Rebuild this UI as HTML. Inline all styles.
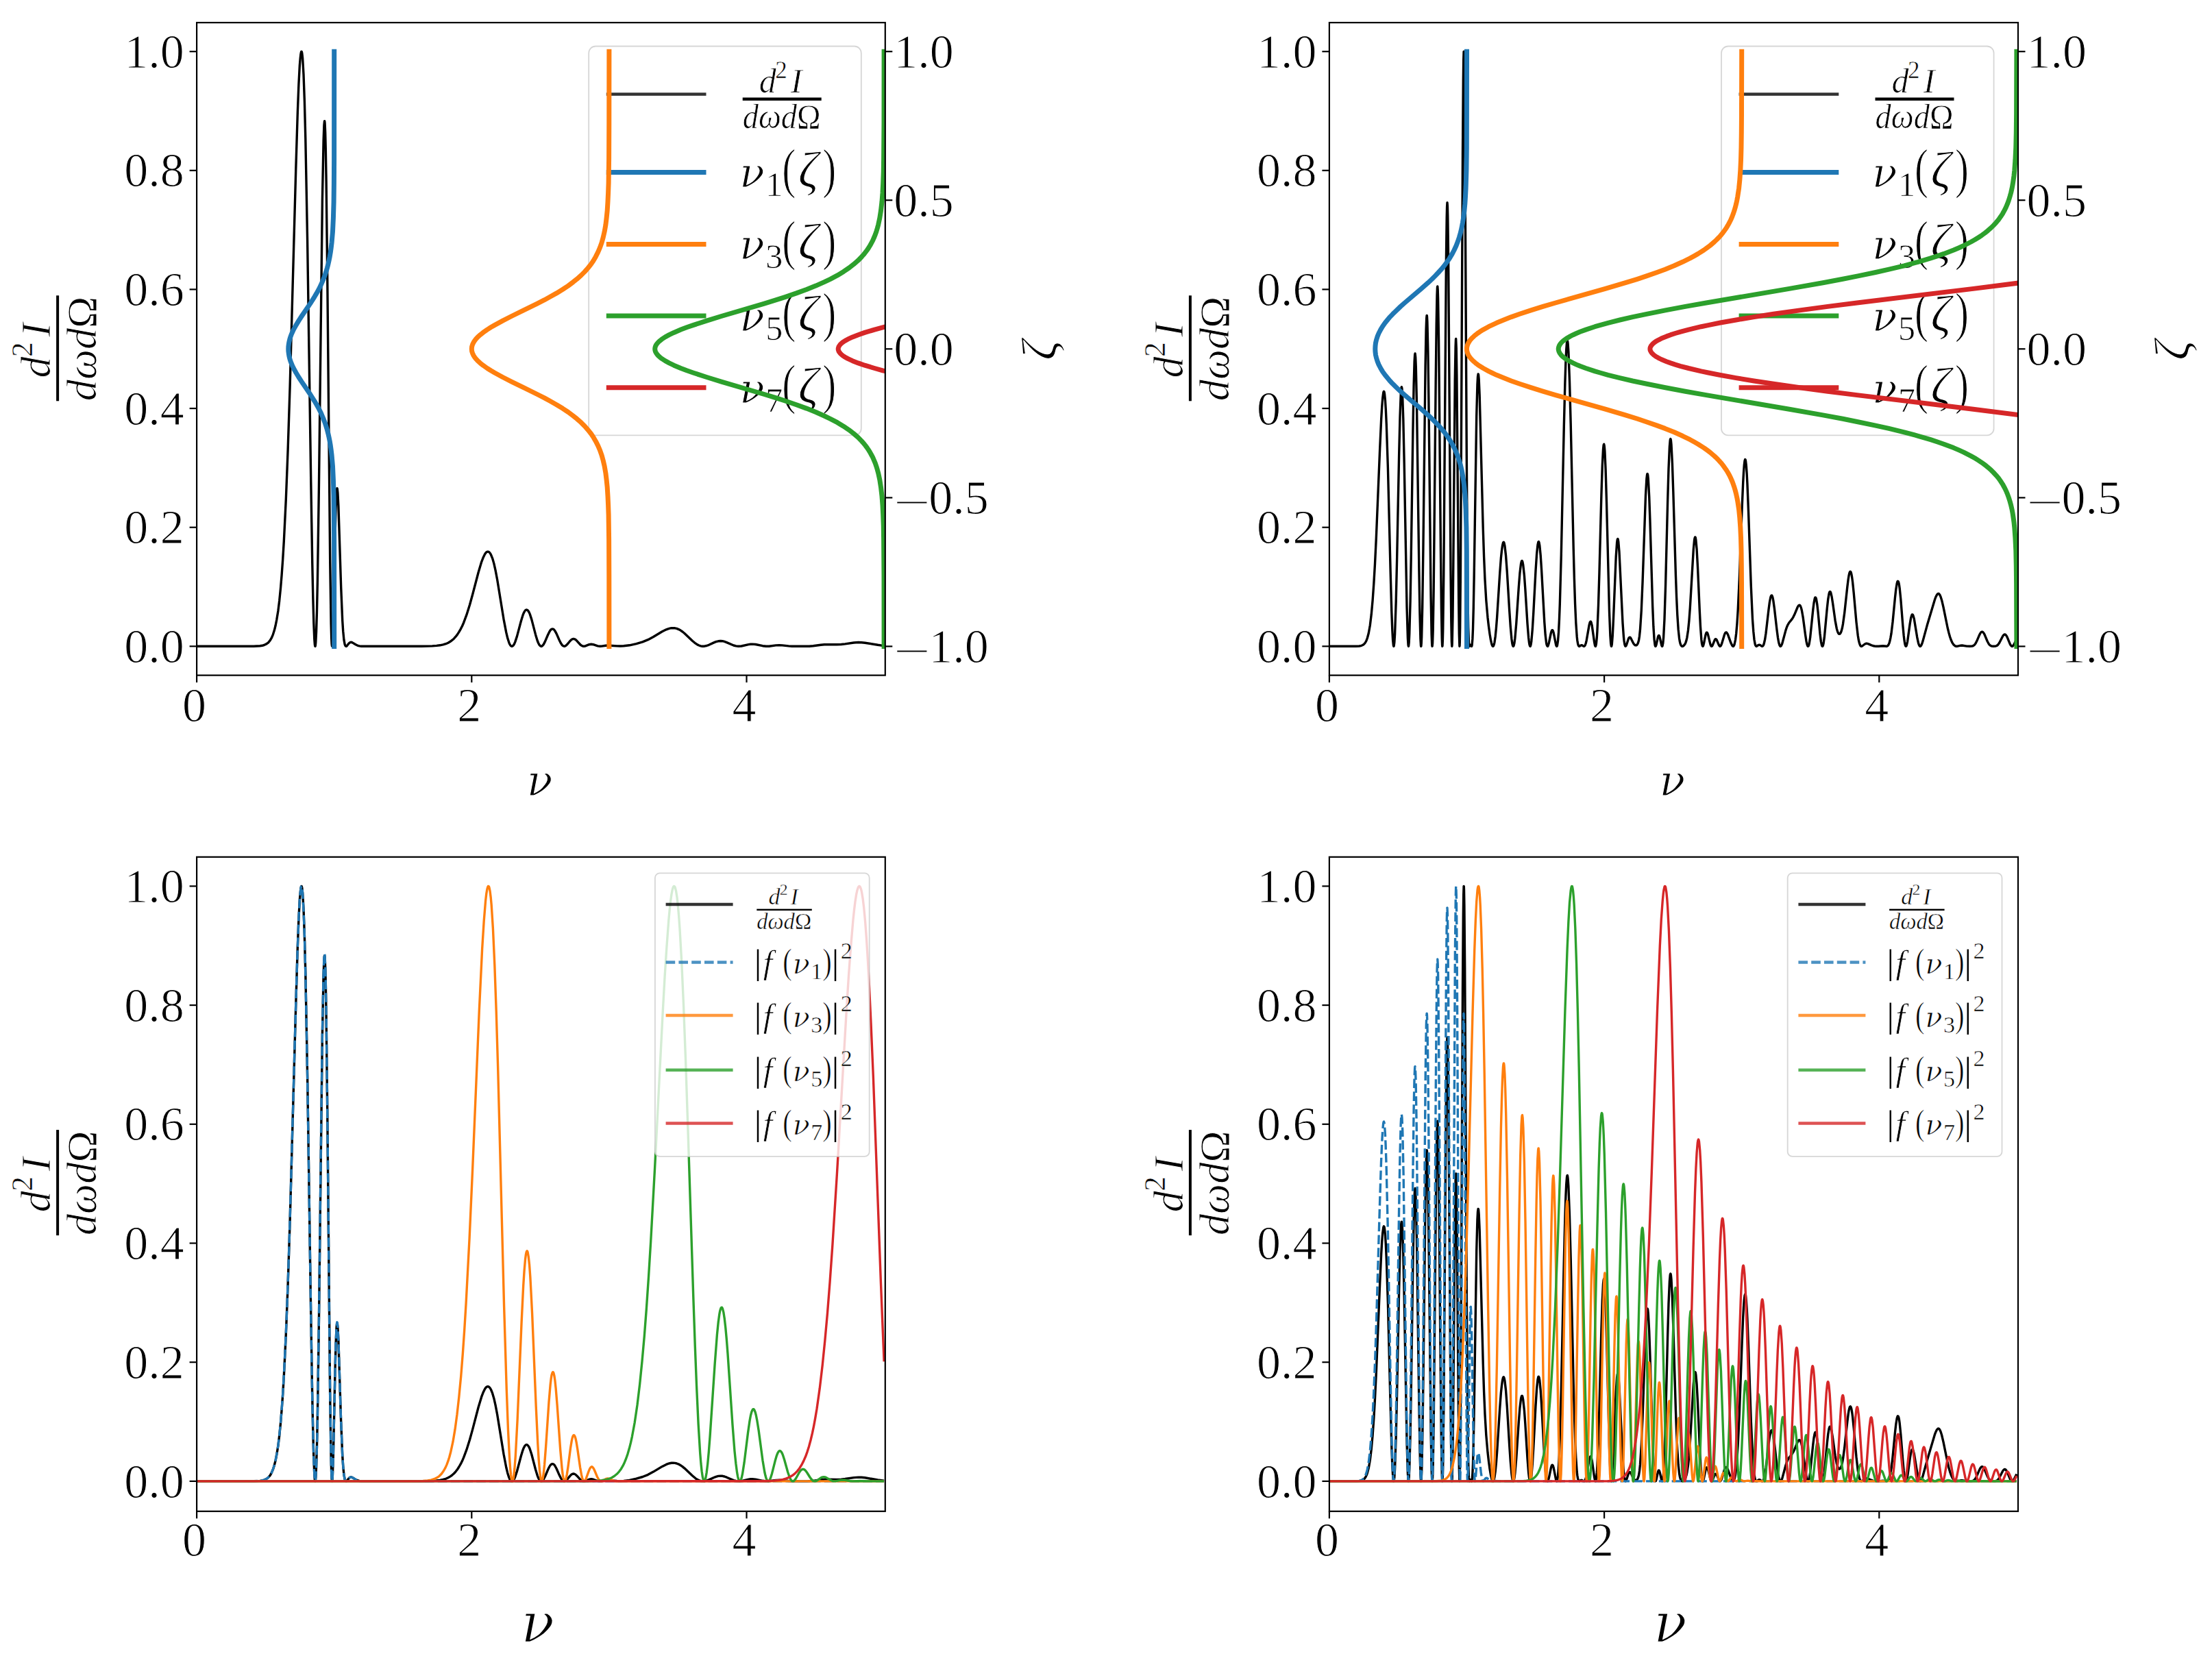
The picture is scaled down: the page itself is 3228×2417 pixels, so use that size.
<!DOCTYPE html>
<html lang="en"><head><meta charset="utf-8"><title>Spectra</title>
<style>html,body{margin:0;padding:0;background:#fff}svg{display:block}.t{font-family:"Liberation Serif",serif;font-size:70px;fill:#000;stroke:#fff;stroke-width:1.05px}.i{font-family:"Liberation Serif",serif;font-style:italic;fill:#000;stroke:#fff;stroke-width:0.7px}.r{font-family:"Liberation Serif",serif;fill:#000;stroke:#fff;stroke-width:0.7px}.g{font-family:"DejaVu Serif","Liberation Serif",serif;font-style:italic;fill:#000;stroke:#fff;stroke-width:1.1px}.c{fill:none;stroke-linejoin:round}</style></head><body>
<svg width="3228" height="2417" viewBox="0 0 3228 2417">
<rect width="3228" height="2417" fill="#fff"/>
<defs><clipPath id="cTL"><rect x="287.1" y="33.0" width="1004.7" height="952.6"/></clipPath><clipPath id="cTR"><rect x="1939.9" y="33.0" width="1005.1" height="952.6"/></clipPath><clipPath id="cBL"><rect x="287.1" y="1250.8" width="1004.7" height="955.0"/></clipPath><clipPath id="cBR"><rect x="1939.9" y="1250.8" width="1005.1" height="955.0"/></clipPath></defs>
<g id="TL"><g clip-path="url(#cTL)"><path class="c" stroke="#000" stroke-width="3.4" d="M287.1 943.3L370.1 943.2L379.4 942.8L382.6 942.3L385.4 941.5L388.8 939.9L391.6 937.8L394.2 934.7L396.4 930.9L398.4 926.1L400.4 919.8L402.2 912.5L403.8 904.3L405.9 891.4L407.7 876.7L409.5 858.7L411.1 839.4L412.7 816.6L414.3 790.1L417.3 728.8L420.1 656.9L423.1 564.4L431.7 249.8L434.3 164.7L435.9 123L437.3 96L438.2 85.2L438.8 79.6L439.4 76.2L439.8 75.3L440 75.2L440.4 75.9L440.8 77.7L441.6 84.7L443 108.5L444.4 147.5L445.8 201.6L448.6 351.4L453.8 704.7L455.8 824.3L456.8 872.1L457.8 909L458.8 933.2L459.4 941L459.8 943.1L460 943.3L460.2 942.8L460.4 941.7L460.8 937.5L461.6 921.3L462.4 894.7L463.4 847.3L465.4 711.4L470.4 291.6L472.1 205.4L472.9 182.9L473.5 176.7L473.7 176.7L473.9 177.9L474.1 180.1L474.7 193.6L475.3 217.2L476.1 263.7L477.7 401.3L481.7 820.6L483.1 910.4L483.7 931.6L484.1 939.7L484.5 943.1L484.7 943.2L484.9 942.1L485.3 936.9L486.3 908.6L489.1 778.9L490.1 741.6L491.1 718.9L491.5 714.5L491.9 712.7L492.1 712.8L492.3 713.6L492.9 719.3L493.9 738.9L497.7 857.8L499.7 905.5L500.7 921.2L501.9 933.6L503.1 940.3L503.9 942.4L504.8 943.2L505.4 943.2L506.2 942.7L508.8 939.4L510 938.2L511 937.6L512 937.3L513 937.4L514.2 937.9L519 940.8L521.6 942.1L524.4 942.9L527.4 943.2L615.1 943.2L630.9 942.9L637.1 942.4L642 941.8L646.6 940.9L650.6 939.7L654 938.2L657.2 936.3L660 934.2L662.6 931.9L665 929.2L667.4 926.1L669.8 922.4L672.3 918.1L674.5 913.7L676.7 908.7L680.9 897.4L685.5 882.7L689.5 868.3L698.1 835.5L702.7 820.1L705.4 813.2L707.6 808.7L708.8 807L709.8 806L710.8 805.3L711.8 805.1L713 805.4L714.2 806.2L715.4 807.7L716.4 809.5L718.6 814.8L720.8 822.4L723 832.1L725.6 845.7L735 903.6L738.7 922.9L740.7 931.3L742.7 937.6L743.7 940L744.7 941.7L745.7 942.8L746.7 943.3L747.9 943.1L749.1 942L750.3 940.2L751.7 937.1L754.5 928.6L760.3 906.7L762.9 898.2L764.3 894.6L765.7 892L767.1 890.4L768.3 890L769.5 890.3L770.7 891.5L772 893.5L773.2 896.1L775.8 904.1L781.6 926.4L784.2 935L785.6 938.5L787 941.1L788.4 942.7L789.6 943.3L790.4 943.2L791.4 942.7L793.2 940.6L795.4 936.4L799.6 926.5L801.6 922.4L802.8 920.4L803.8 919.2L804.8 918.4L805.9 918L806.9 918.1L807.9 918.6L808.9 919.5L809.9 920.9L812.1 924.9L816.3 934.5L818.3 938.5L820.5 941.7L821.5 942.6L822.5 943.1L824.1 943.2L825.9 942.3L827.7 940.6L831.5 936L833.3 934.1L835.1 932.8L836.9 932.4L838.5 932.8L840.2 933.8L841.8 935.3L847 941L848.8 942.3L850.6 943.1L852 943.3L853.6 943.1L859.8 940.7L862.8 940.2L865.8 940.7L872.3 942.9L875.7 943.3L878.1 943.1L883.9 942.2L886.7 942L900.3 942.9L905.3 943L910.2 942.8L918.6 941.8L928.6 939.6L937.8 936.9L945.7 933.7L953.5 929.5L966.3 921.8L972.3 918.8L975 917.8L977.4 917.2L979.8 916.7L982.2 916.6L985 916.8L987.6 917.4L990.4 918.6L993.2 920.1L996 922L999 924.5L1010.3 935.2L1015.1 939.2L1017.7 940.9L1020.1 942L1022.5 942.9L1024.9 943.3L1027.9 943.2L1031.1 942.5L1034.5 941.3L1041.8 937.9L1044.8 936.7L1048.2 935.8L1051.6 935.5L1054.4 935.7L1057.2 936.4L1060.4 937.6L1070.6 942L1074.1 942.9L1077.5 943.3L1081.9 943L1092.5 940.6L1095.3 940.2L1097.9 940.1L1102.5 940.5L1113 942.7L1118 943.3L1122.4 943.2L1132.2 941.9L1137.2 941.7L1141.5 941.9L1150.7 942.9L1155.7 943.2L1181 943.3L1186.6 942.8L1197.8 941.2L1203 940.7L1208.3 940.6L1220.9 940.8L1227.5 940.5L1233.3 939.9L1246 938L1252.8 937.5L1257.2 937.7L1262.2 938.2L1280.9 941.3L1290.1 942.6"/></g>
<rect x="859.2" y="67.5" width="397.6" height="567.9" rx="10" fill="#fff" fill-opacity="0.8" stroke="#ccc" stroke-opacity="0.8" stroke-width="1.8"/><line x1="884.8" x2="1030.5" y1="137.5" y2="137.5" stroke="#000" stroke-opacity="0.8" stroke-width="4.5"/><line x1="884.8" x2="1030.5" y1="251.5" y2="251.5" stroke="#1f77b4" stroke-width="7.0"/><line x1="884.8" x2="1030.5" y1="356.5" y2="356.5" stroke="#ff7f0e" stroke-width="7.0"/><line x1="884.8" x2="1030.5" y1="461.0" y2="461.0" stroke="#2ca02c" stroke-width="7.0"/><line x1="884.8" x2="1030.5" y1="565.8" y2="565.8" stroke="#d62728" stroke-width="7.0"/><rect x="1083.7" y="142.4" width="115.0" height="4.4" fill="#000"/><text class="i" style="stroke-width:0.75px" font-size="50.0" x="1107.7" y="135.0">d</text><text class="r" style="stroke-width:0.53px" font-size="35.0" x="1131.3" y="114.0">2</text><text class="i" style="stroke-width:0.75px" font-size="50.0" x="1154.1" y="135.0">I</text><text class="i" style="stroke-width:0.75px" font-size="50.0" x="1083.7" y="187.2" textLength="114.0" lengthAdjust="spacingAndGlyphs">dωd<tspan font-style="normal">Ω</tspan></text><text class="g" style="stroke-width:1.02px" font-size="60" x="1079.2" y="273.3">ν</text><text class="r" style="stroke-width:0.75px" font-size="50" x="1117.2" y="285.6">1</text><text class="r" style="stroke-width:1.20px" font-size="80.0" transform="translate(1141.2 273.3) scale(0.75 1)">(</text><text class="i" style="stroke-width:1.09px" font-size="73" x="1164.7" y="273.3">ζ</text><text class="r" style="stroke-width:1.20px" font-size="80.0" transform="translate(1200.2 273.3) scale(0.75 1)">)</text><text class="g" style="stroke-width:1.02px" font-size="60" x="1079.2" y="378.3">ν</text><text class="r" style="stroke-width:0.75px" font-size="50" x="1117.2" y="390.6">3</text><text class="r" style="stroke-width:1.20px" font-size="80.0" transform="translate(1141.2 378.3) scale(0.75 1)">(</text><text class="i" style="stroke-width:1.09px" font-size="73" x="1164.7" y="378.3">ζ</text><text class="r" style="stroke-width:1.20px" font-size="80.0" transform="translate(1200.2 378.3) scale(0.75 1)">)</text><text class="g" style="stroke-width:1.02px" font-size="60" x="1079.2" y="483.3">ν</text><text class="r" style="stroke-width:0.75px" font-size="50" x="1117.2" y="495.6">5</text><text class="r" style="stroke-width:1.20px" font-size="80.0" transform="translate(1141.2 483.3) scale(0.75 1)">(</text><text class="i" style="stroke-width:1.09px" font-size="73" x="1164.7" y="483.3">ζ</text><text class="r" style="stroke-width:1.20px" font-size="80.0" transform="translate(1200.2 483.3) scale(0.75 1)">)</text><text class="g" style="stroke-width:1.02px" font-size="60" x="1079.2" y="588.3">ν</text><text class="r" style="stroke-width:0.75px" font-size="50" x="1117.2" y="600.6">7</text><text class="r" style="stroke-width:1.20px" font-size="80.0" transform="translate(1141.2 588.3) scale(0.75 1)">(</text><text class="i" style="stroke-width:1.09px" font-size="73" x="1164.7" y="588.3">ζ</text><text class="r" style="stroke-width:1.20px" font-size="80.0" transform="translate(1200.2 588.3) scale(0.75 1)">)</text>
<g clip-path="url(#cTL)"><path class="c" stroke-linecap="square" stroke="#1f77b4" stroke-width="7.0" d="M487.7 943.4L487.6 787.1L487.4 751.3L487.1 724.2L486.4 700.3L485.5 680.8L484.1 664.5L483.2 656.9L482.3 650.4L481.2 643.9L480.1 638.4L478.9 633L477.5 627.6L475.9 622.2L474.1 616.7L472 611.3L470.2 607L467.8 601.5L465.1 596.1L462.1 590.7L458.9 585.3L452.7 575.5L440.2 557.1L435.9 550.5L432 544L428.4 537.5L426.4 533.2L425 529.9L423.8 526.7L422.8 523.4L421.8 519.1L421.3 515.8L420.9 512.6L420.8 509.3L420.9 506L421.3 502.8L421.8 499.5L422.8 495.2L423.8 491.9L425 488.7L426.4 485.4L428.4 481.1L432 474.6L435.9 468.1L440.2 461.5L452.7 443.1L458.9 433.3L462.1 427.9L465.1 422.5L467.8 417.1L470.2 411.6L472 407.3L474.1 401.9L475.9 396.4L477.5 391L478.9 385.6L480.1 380.2L481.2 374.7L482.3 368.2L483.2 361.7L484.1 354.1L485.5 337.8L486.4 318.3L487.1 294.4L487.4 267.3L487.6 231.5L487.7 75.2"/><path class="c" stroke-linecap="square" stroke="#ff7f0e" stroke-width="7.0" d="M888.9 943.4L888.8 839.2L888.6 787.1L888.1 751.3L887.6 737.2L887 724.2L886.2 711.2L885.1 700.3L883.9 690.5L882.2 680.8L880.2 672.1L878.1 664.5L875.4 656.9L872.6 650.4L869.3 643.9L866.1 638.4L862.5 633L858.2 627.6L853.5 622.2L848 616.7L841.9 611.3L836.5 607L829.2 601.5L821 596.1L812.2 590.7L802.6 585.3L794.6 580.9L784 575.5L746.5 557.1L733.6 550.5L721.7 544L716.2 540.8L711 537.5L704.9 533.2L700.8 529.9L697.2 526.7L694.2 523.4L692.6 521.2L691.2 519.1L689.6 515.8L688.6 512.6L688.3 509.3L688.6 506L689.6 502.8L691.2 499.5L692.6 497.4L694.2 495.2L697.2 491.9L700.8 488.7L704.9 485.4L711 481.1L716.2 477.8L721.7 474.6L733.6 468.1L746.5 461.5L784 443.1L794.6 437.7L802.6 433.3L812.2 427.9L821 422.5L829.2 417.1L836.5 411.6L841.9 407.3L848 401.9L853.5 396.4L858.2 391L862.5 385.6L866.1 380.2L869.3 374.7L872.6 368.2L875.4 361.7L878.1 354.1L880.2 346.5L882.2 337.8L883.9 328.1L885.1 318.3L886.2 307.4L887 294.4L887.6 281.4L888.1 267.3L888.6 231.5L888.8 179.4L888.9 75.2"/><path class="c" stroke-linecap="square" stroke="#2ca02c" stroke-width="7.0" d="M1290.1 943.4L1290 839.2L1289.6 787.1L1289.3 767.6L1288.7 751.3L1288 737.2L1287 724.2L1285.5 711.2L1283.8 700.3L1281.7 690.5L1280.2 685.1L1278.9 680.8L1277.4 676.4L1275.6 672.1L1273.7 667.7L1272 664.5L1269.6 660.1L1267.6 656.9L1265.4 653.6L1263 650.4L1260.4 647.1L1257.5 643.9L1252.2 638.4L1246 633L1239 627.6L1231 622.2L1222 616.7L1211.8 611.3L1202.8 607L1190.5 601.5L1177 596.1L1162.2 590.7L1146.3 585.3L1132.9 580.9L1115.3 575.5L1052.7 557.1L1031.3 550.5L1011.4 544L1002.2 540.8L993.6 537.5L983.4 533.2L976.6 529.9L970.7 526.7L965.7 523.4L962.9 521.2L960.6 519.1L958.7 516.9L957.9 515.8L956.7 513.6L956.3 512.6L955.8 510.4L955.8 509.3L955.8 508.2L956.3 506L956.7 505L957.9 502.8L958.7 501.7L960.6 499.5L962.9 497.4L965.7 495.2L970.7 491.9L976.6 488.7L983.4 485.4L993.6 481.1L1002.2 477.8L1011.4 474.6L1031.3 468.1L1052.7 461.5L1115.3 443.1L1132.9 437.7L1146.3 433.3L1162.2 427.9L1177 422.5L1190.5 417.1L1202.8 411.6L1211.8 407.3L1222 401.9L1231 396.4L1239 391L1246 385.6L1252.2 380.2L1257.5 374.7L1260.4 371.5L1263 368.2L1265.4 365L1267.6 361.7L1269.6 358.5L1272 354.1L1273.7 350.9L1275.6 346.5L1277.4 342.2L1278.9 337.8L1280.2 333.5L1281.7 328.1L1283.8 318.3L1285.5 307.4L1287 294.4L1288 281.4L1288.7 267.3L1289.3 251L1289.6 231.5L1290 179.4L1290.1 75.2"/><path class="c" stroke-linecap="square" stroke="#d62728" stroke-width="7.0" d="M1691.3 943.4L1691.2 839.2L1691 809.9L1690.6 787.1L1690.1 767.6L1689.4 751.3L1688.4 737.2L1687 724.2L1686 717.7L1684.9 711.2L1683.8 705.7L1682.5 700.3L1680.9 694.9L1679.5 690.5L1677.5 685.1L1675.6 680.8L1673.5 676.4L1671 672.1L1668.3 667.7L1666 664.5L1662.6 660.1L1659.8 656.9L1656.7 653.6L1653.4 650.4L1649.7 647.1L1645.7 643.9L1638.2 638.4L1629.6 633L1619.8 627.6L1608.6 622.2L1595.9 616.7L1581.7 611.3L1569.1 607L1551.9 601.5L1532.9 596.1L1512.3 590.7L1490 585.3L1471.2 580.9L1446.6 575.5L1358.9 557.1L1329 550.5L1301.1 544L1288.2 540.8L1276.3 537.5L1261.9 533.2L1252.4 529.9L1244.1 526.7L1237.1 523.4L1233.2 521.2L1229.9 519.1L1227.3 516.9L1226.2 515.8L1224.6 513.6L1224 512.6L1223.3 510.4L1223.2 509.3L1223.3 508.2L1224 506L1224.6 505L1226.2 502.8L1227.3 501.7L1229.9 499.5L1233.2 497.4L1237.1 495.2L1244.1 491.9L1252.4 488.7L1261.9 485.4L1276.3 481.1L1288.2 477.8L1301.1 474.6L1329 468.1L1358.9 461.5L1446.6 443.1L1471.2 437.7L1490 433.3L1512.3 427.9L1532.9 422.5L1551.9 417.1L1569.1 411.6L1581.7 407.3L1595.9 401.9L1608.6 396.4L1619.8 391L1629.6 385.6L1638.2 380.2L1645.7 374.7L1649.7 371.5L1653.4 368.2L1656.7 365L1659.8 361.7L1662.6 358.5L1666 354.1L1668.3 350.9L1671 346.5L1673.5 342.2L1675.6 337.8L1677.5 333.5L1679.5 328.1L1680.9 323.7L1682.5 318.3L1683.8 312.9L1684.9 307.4L1686 300.9L1687 294.4L1688.4 281.4L1689.4 267.3L1690.1 251L1690.6 231.5L1691 208.7L1691.2 179.4L1691.3 75.2"/></g>
<rect x="287.1" y="33.0" width="1004.7" height="952.6" fill="none" stroke="#000" stroke-width="2.2"/><line x1="287.1" x2="287.1" y1="985.6" y2="996.1" stroke="#000" stroke-width="2.2"/><text class="t" text-anchor="middle" x="283.6" y="1052.8">0</text><line x1="688.3" x2="688.3" y1="985.6" y2="996.1" stroke="#000" stroke-width="2.2"/><text class="t" text-anchor="middle" x="684.8" y="1052.8">2</text><line x1="1089.5" x2="1089.5" y1="985.6" y2="996.1" stroke="#000" stroke-width="2.2"/><text class="t" text-anchor="middle" x="1086.0" y="1052.8">4</text><line x1="276.6" x2="287.1" y1="943.3" y2="943.3" stroke="#000" stroke-width="2.2"/><text class="t" text-anchor="end" x="268.8" y="966.9">0.0</text><line x1="276.6" x2="287.1" y1="769.7" y2="769.7" stroke="#000" stroke-width="2.2"/><text class="t" text-anchor="end" x="268.8" y="793.3">0.2</text><line x1="276.6" x2="287.1" y1="596.1" y2="596.1" stroke="#000" stroke-width="2.2"/><text class="t" text-anchor="end" x="268.8" y="619.7">0.4</text><line x1="276.6" x2="287.1" y1="422.4" y2="422.4" stroke="#000" stroke-width="2.2"/><text class="t" text-anchor="end" x="268.8" y="446.0">0.6</text><line x1="276.6" x2="287.1" y1="248.8" y2="248.8" stroke="#000" stroke-width="2.2"/><text class="t" text-anchor="end" x="268.8" y="272.4">0.8</text><line x1="276.6" x2="287.1" y1="75.2" y2="75.2" stroke="#000" stroke-width="2.2"/><text class="t" text-anchor="end" x="268.8" y="98.8">1.0</text><line x1="1291.8" x2="1302.3" y1="943.4" y2="943.4" stroke="#000" stroke-width="2.2"/><text class="t" transform="translate(1303.7 969.6) scale(1.37 0.85)">−</text><text class="t" x="1355.3" y="967.0">1.0</text><line x1="1291.8" x2="1302.3" y1="726.4" y2="726.4" stroke="#000" stroke-width="2.2"/><text class="t" transform="translate(1303.7 752.6) scale(1.37 0.85)">−</text><text class="t" x="1355.3" y="750.0">0.5</text><line x1="1291.8" x2="1302.3" y1="509.3" y2="509.3" stroke="#000" stroke-width="2.2"/><text class="t" x="1304.3" y="532.9">0.0</text><line x1="1291.8" x2="1302.3" y1="292.2" y2="292.2" stroke="#000" stroke-width="2.2"/><text class="t" x="1304.3" y="315.9">0.5</text><line x1="1291.8" x2="1302.3" y1="75.2" y2="75.2" stroke="#000" stroke-width="2.2"/><text class="t" x="1304.3" y="98.8">1.0</text><text class="i" style="stroke-width:1.08px" font-size="72" transform="translate(1540.9 525.8) rotate(-90)">ζ</text><g transform="translate(84.1 508.3) rotate(-90)"><rect x="-77.0" y="-2.0" width="154.0" height="4.0" fill="#000"/><text class="i" style="stroke-width:0.93px" font-size="62.0" x="-43.2" y="-11.3">d</text><text class="r" style="stroke-width:0.65px" font-size="43.4" x="-12.7" y="-37.3">2</text><text class="i" style="stroke-width:0.93px" font-size="62.0" x="16.6" y="-11.3">I</text><text class="i" style="stroke-width:0.93px" font-size="62.0" x="-77.0" y="56.4" textLength="152.8" lengthAdjust="spacingAndGlyphs">dωd<tspan font-style="normal">Ω</tspan></text></g><text class="g" style="stroke-width:1.05px" font-size="62" text-anchor="middle" x="787.5" y="1160.6">ν</text></g>
<g id="TR"><g clip-path="url(#cTR)"><path class="c" stroke="#000" stroke-width="3.4" d="M1939.9 943.3L1978.6 943.2L1983.6 943L1986.8 942.3L1988.6 941.5L1990.3 940.4L1991.7 938.9L1992.9 937.1L1994.1 934.7L1995.3 931.5L1997.3 924L1999.3 912.7L2001.3 896.3L2003.1 876.4L2004.9 850.7L2006.5 822.8L2008.3 785.7L2013.7 654.4L2015.7 611.2L2016.7 594.1L2017.7 581.3L2018.7 573.5L2019.1 571.9L2019.5 571.4L2019.9 571.8L2020.1 572.5L2020.5 574.5L2021.5 584.5L2022.3 597.4L2023.3 619.8L2025.4 683L2029.2 836.5L2030.8 892.9L2031.8 919.4L2032.6 934.1L2033.4 942L2033.8 943.3L2034 943.2L2034.2 942.6L2034.8 938.1L2035.6 925.3L2037.2 877.9L2038.6 817.2L2041.6 665.9L2043 608.2L2044.2 576L2044.8 567.6L2045.2 565.1L2045.4 564.7L2045.8 566.1L2046 567.8L2046.6 576.6L2047.8 611.2L2049.2 675.5L2053 885.5L2054.4 931.9L2055 941.1L2055.4 943.3L2055.6 943.1L2056.2 937.5L2056.8 924.4L2058.1 877.3L2059.3 807.5L2061.9 629.3L2063.1 562.9L2064.1 527.7L2064.7 517.7L2065.1 516L2065.7 521.2L2066.3 535.6L2067.5 589.6L2070.9 834.2L2071.9 894.3L2072.9 932.5L2073.5 942.4L2073.7 943.3L2073.9 943L2074.3 938.6L2074.7 929.5L2075.7 886.1L2076.9 802.1L2080.1 533.4L2081.1 480.9L2081.7 464.4L2082.1 460.4L2082.3 460.5L2082.5 462.1L2082.9 469.6L2083.9 512.5L2084.9 584.7L2088.1 870.9L2089.1 925.4L2089.7 940.9L2089.9 942.9L2090.1 943.2L2090.6 938.9L2091.2 920.1L2092.2 858.4L2095.2 556L2096.2 472.5L2097 431L2097.4 420.7L2097.6 418.4L2097.8 418L2098.2 422.9L2098.6 435.5L2099.6 497.8L2102.4 798L2103.4 888.4L2104.2 932L2104.6 941.7L2104.8 943.3L2105 942.6L2105.4 934.5L2105.8 917.4L2106.8 838.3L2110.4 378.6L2111.2 317.8L2111.6 301.5L2112 295.6L2112.4 300.3L2112.8 315.6L2113.6 375.9L2117 833.2L2117.8 906.8L2118.4 936.7L2118.8 943.2L2119 942.5L2119.2 939L2120 899.8L2120.8 826.9L2123.2 556.1L2124.1 505.5L2124.5 495.4L2124.7 494.5L2125.3 508.9L2125.9 547.7L2128.7 878.4L2129.3 925L2129.9 943.2L2130.1 942L2130.3 937L2130.7 915.1L2131.5 825.5L2134.5 226.1L2135.3 118.1L2135.7 87.8L2136.1 75.2L2136.3 75.6L2136.5 80.4L2136.9 102.8L2137.7 193L2140.3 665.6L2141.5 830.1L2142.1 882.4L2142.7 916L2143.5 937.8L2143.9 941.9L2144.3 943.3L2144.7 943L2145.7 941.1L2145.9 941.1L2146.3 941.4L2147.1 942.9L2147.5 943.3L2147.9 942.6L2148.1 941.7L2148.9 932.4L2149.5 917.9L2150.3 887.1L2151.1 844L2154.7 607.4L2155.9 561.7L2156.5 550.1L2157.1 545.9L2157.4 546.1L2157.6 547.1L2158.2 554L2159.2 577.6L2164.2 770.2L2165.6 813L2167 845.8L2168.8 876.1L2171 901.2L2172.4 913.5L2174 925.3L2175.4 933.7L2176.8 939.9L2177.6 942.1L2178.2 943L2178.6 943.3L2179 943.2L2179.6 942.4L2180.4 940.1L2181 937.3L2182.2 928.9L2183.4 916.8L2184.6 901.4L2188.6 838.7L2190.4 814.2L2191.5 803.8L2192.5 796.4L2193.5 792.2L2193.9 791.5L2194.3 791.3L2194.7 791.7L2195.1 792.8L2195.9 796.5L2197.5 810.5L2199.3 834.9L2202.7 891.2L2204.3 914.8L2205.9 932.4L2206.7 938.3L2207.3 941.3L2207.9 942.9L2208.3 943.3L2208.7 943.1L2209.1 942.2L2209.9 938.8L2210.9 931.4L2212.7 910.7L2216.3 857L2217.9 836.7L2219.5 823.1L2220.3 819.6L2220.7 818.8L2221.1 818.6L2221.5 819.1L2221.9 820.2L2222.7 824.3L2224.4 839.6L2225.8 859.1L2229 910.3L2230.6 930.4L2231.4 937.4L2232 940.9L2232.8 943.2L2233.2 943.2L2233.4 943L2234 941.1L2234.8 935.9L2236.4 917.5L2237.8 894.2L2241 833.1L2242.6 808.5L2244 795L2244.8 791.3L2245.2 790.7L2245.4 790.6L2246 791.8L2246.8 796L2248.2 810.4L2249.6 831.9L2253.8 908.1L2255.2 926.8L2256.6 938.6L2257.2 941.4L2257.9 942.9L2258.5 943.3L2259.1 942.6L2260.3 938.7L2263.5 923.2L2264.5 920.3L2265.1 919.6L2265.5 919.6L2266.3 920.7L2267.3 924.1L2270.7 941.4L2271.3 942.9L2271.7 943.3L2272.1 943L2272.5 942L2273.5 935.6L2274.5 922.9L2275.5 903.1L2276.3 881.9L2278.3 809.6L2282.3 622.6L2283.9 558.1L2284.9 527.8L2285.7 510.5L2286.5 500.2L2286.9 497.8L2287.1 497.3L2287.3 497.3L2287.7 498.5L2288.1 501.7L2288.9 513.3L2290.5 556L2292.2 618.8L2296.2 800.3L2297.4 845.5L2298.6 881.9L2299.8 909L2301.2 929.2L2301.8 934.7L2302.6 939.5L2303.4 942.2L2304.2 943.2L2305 943.2L2307 941.9L2308 941.7L2309 942L2310.8 943.1L2311.6 943.3L2312.4 942.9L2313.2 941.7L2314.2 939L2315.2 934.8L2319.2 911.9L2320.2 908.3L2321 907.2L2321.6 907.4L2322 908.2L2323.2 913L2326.5 936.6L2327.5 941.9L2328.1 943.2L2328.5 943.2L2329.1 941.3L2329.5 938.9L2330.3 930.6L2330.9 921.3L2332.5 883.6L2333.9 837.2L2336.9 722.7L2338.3 679.3L2339.5 655.8L2340.1 649.9L2340.5 648.4L2340.7 648.3L2341.3 651.2L2341.9 658.4L2343.1 685.1L2344.5 732.9L2348.5 892.8L2349.9 928.2L2350.7 939.3L2351.3 943L2351.5 943.3L2351.7 943.2L2352.3 940.3L2353.3 927.8L2354.5 902.9L2358.2 812.7L2359.6 792L2360.2 787.8L2360.4 787.1L2360.8 786.5L2361.2 787.3L2361.8 790.9L2363 805.5L2368 909.1L2369.4 929L2370 934.9L2370.8 940.1L2371.2 941.7L2371.8 943.1L2372.2 943.3L2372.8 942.8L2373.8 940.5L2376.4 932.4L2377.2 930.9L2378 930.1L2378.8 930.2L2379.6 931L2383.8 939.3L2385 940.8L2386.4 941.7L2387.2 941.8L2388 941.7L2388.8 941.2L2389.4 940.5L2390.4 938.4L2391.5 934.7L2392.5 928.4L2393.5 918.8L2395.3 890.9L2397.1 848.5L2401.5 723.1L2402.9 698.7L2403.5 693.4L2403.9 691.7L2404.1 691.5L2404.5 692.3L2404.7 693.3L2405.3 698.7L2406.7 724.6L2407.9 758.7L2411.7 885.6L2412.9 914.7L2414.1 933.6L2415.1 941.5L2415.5 942.8L2415.7 943.2L2416.1 943.2L2416.5 942.6L2417.1 940.7L2419.5 929.6L2420.3 927.7L2420.9 927.4L2421.5 928.3L2422.1 930.1L2424.8 942L2425.4 943.2L2425.8 943.2L2426 942.8L2426.8 939L2427.6 930.6L2429 903.4L2430.6 853.4L2433.6 733L2435 684.3L2436.4 651.8L2437.2 642.7L2437.4 641.5L2437.8 640.6L2438 640.9L2438.4 642.7L2439 648.7L2440.4 676.1L2441.8 717.5L2445.4 838.9L2446.6 871.7L2447.8 897.6L2449.2 918.9L2450.6 932L2451.4 936.7L2452.2 939.8L2453.2 942.1L2454.2 943.1L2454.8 943.3L2455.6 943.2L2457.2 942.2L2458.7 940.4L2459.9 937.9L2460.9 934.9L2461.9 930.6L2463.5 920L2464.9 906.1L2466.3 887.3L2471.3 801.9L2472.5 788.9L2473.1 785.3L2473.7 783.9L2474.1 784.3L2474.3 784.9L2474.9 788.3L2476.1 802L2477.5 827.6L2480.3 891.4L2481.5 914.8L2482.9 933.9L2483.5 938.8L2484.3 942.5L2484.9 943.3L2485.3 943L2485.7 942.1L2486.5 939.1L2489.1 926.2L2489.9 923.9L2490.3 923.3L2490.7 923.1L2491.1 923.3L2491.6 923.8L2492.4 925.8L2496 940.6L2496.8 942.5L2497.6 943.3L2498 943.2L2498.4 943L2499.2 941.7L2502.4 933.8L2503.2 932.8L2503.8 932.6L2504.6 933.1L2505.4 934.3L2508 940.6L2509 942.5L2510 943.3L2510.8 943L2511.6 941.9L2512.6 939.4L2516.6 926L2517.8 923.6L2518.8 922.9L2519.4 923L2520 923.5L2521.4 925.9L2525.9 938.3L2527.7 942.1L2528.7 943.2L2529.5 943.2L2530.3 942.4L2531.1 940.5L2532.5 934L2533.7 924.5L2534.9 910.7L2536.1 892L2538.3 845.2L2542.1 742.2L2543.7 704.2L2544.5 689.5L2545.3 678.7L2546.1 672.2L2546.7 670.5L2547.1 670.9L2547.5 672.5L2548.3 679.2L2549.1 690.5L2549.9 705.9L2551.5 745.9L2555.3 855.6L2557.5 903.9L2558.8 921.7L2560 933.5L2561.2 940.1L2561.8 941.9L2562.6 943.1L2563 943.3L2563.6 943.2L2566 941.5L2567.2 941.1L2568.4 941.4L2571 943.2L2572 943.2L2572.6 942.8L2573.2 942L2574.2 939.5L2575.6 933.4L2577 924.3L2581 889.6L2582.4 879L2583.8 871.8L2584.6 869.6L2585.2 869L2585.8 869.2L2586.4 870.4L2587 872.5L2587.8 876.5L2589.4 888L2592.9 918.6L2594.5 930.8L2595.5 936.5L2596.3 939.8L2597.1 942.1L2597.9 943.2L2598.5 943.3L2599.3 942.6L2600.7 939.5L2605.9 920.1L2607.1 916.4L2608.5 912.9L2610.7 909L2614.9 903.9L2616.7 901.1L2618.7 897.1L2623.3 886L2624.5 884L2625.1 883.5L2625.8 883.2L2626.4 883.4L2626.8 883.7L2627.6 885L2628.6 887.8L2629.4 891L2631.2 901.3L2634.6 926.7L2636 935.8L2636.8 939.7L2637.6 942.3L2638 943L2638.4 943.3L2639 943L2639.6 941.7L2640.2 939.5L2641.6 930.8L2645.8 889.9L2647 880.1L2648.2 873.8L2648.8 872.2L2649.2 871.9L2649.8 872.3L2650.4 873.9L2651.8 882.1L2653 892.9L2656 925L2657.4 936.5L2658.6 942.2L2659.3 943.2L2659.5 943.3L2659.9 943L2660.5 941.6L2661.1 939L2662.3 930.6L2666.3 887.7L2667.7 874.9L2669.1 866.6L2669.7 864.6L2670.1 863.8L2670.5 863.5L2671.1 863.8L2671.7 865L2673.1 870.9L2674.5 879.7L2678.1 905.6L2680.3 917.4L2681.5 921.6L2682.7 924.2L2683.3 925L2683.9 925.4L2684.5 925.4L2685.1 925.1L2686.3 923.3L2687.3 920.7L2688.5 916L2689.5 910.6L2691.7 894.6L2695.8 856.8L2697.2 845.4L2698 840.4L2698.8 836.7L2699.6 834.6L2700.2 834.2L2700.6 834.4L2701 835.1L2701.8 837.8L2702.6 842.1L2703.6 849.6L2705.2 865.3L2709 908.1L2711.2 927.3L2712.2 933.5L2713.4 938.7L2714.6 941.8L2715.2 942.7L2716 943.2L2716.6 943.3L2717.4 943L2721.4 940L2722.6 939.4L2723.6 939.2L2724.8 939.3L2726.1 939.6L2730.7 941.6L2733.1 942.5L2735.5 943L2738.1 943.3L2741.3 943.3L2747.7 942.7L2753.1 943.3L2753.9 943.1L2754.7 942.6L2755.9 941.1L2756.9 938.9L2757.9 935.5L2758.9 930.8L2760 924.6L2762 908L2765.4 872.9L2766.8 860.2L2768.2 851.5L2769 848.8L2769.6 848.2L2770.2 848.7L2770.8 850.3L2771.4 853.2L2772.2 858.7L2773.8 874.7L2776.8 912.6L2778.2 927.9L2779 934.6L2779.8 939.5L2780.4 941.9L2780.8 942.8L2781.2 943.3L2781.8 943L2782.4 941.6L2783.6 936.3L2787.2 910.2L2788.6 902L2789.8 897.9L2790.4 897L2790.8 896.9L2791.4 897.4L2792 898.6L2793.3 903.2L2797.7 930.1L2799.5 938.6L2800.5 941.5L2801.5 943L2801.9 943.3L2802.5 943.2L2803.5 942.2L2804.7 939.7L2806.1 935.4L2812.3 912.6L2823.3 875.7L2824.7 871.8L2826.2 868.8L2827.4 867.1L2828 866.6L2828.6 866.4L2829.2 866.5L2829.8 866.9L2831 868.6L2832.2 871.4L2833.6 875.9L2836 886.1L2842.2 916.5L2844 923.9L2845.6 929.5L2847.4 934.6L2849.2 938.4L2851 941L2852.8 942.6L2854.2 943.2L2855.8 943.3L2861.1 942.2L2863.3 942L2870.1 943.1L2874.5 943.3L2877.7 943.1L2879.7 942.5L2881.5 941.1L2883.1 938.9L2884.7 935.8L2888.1 927.8L2889.5 924.9L2890.9 922.9L2891.7 922.3L2892.3 922.1L2893 922.2L2893.8 922.7L2895.4 924.8L2896.8 927.8L2900.2 936L2902.2 939.7L2903.2 941L2904.2 941.9L2905.4 942.7L2906.6 943L2909.2 943.2L2912 943.1L2913.8 942.5L2915.2 941.5L2916.4 940.2L2917.8 938L2922.8 928.3L2924 926.7L2925.2 926L2926 926L2926.7 926.3L2928.1 928L2929.5 930.8L2933.3 940.1L2934.5 942.1L2935.7 943.2L2936.3 943.3L2936.9 943.2L2938.3 941.8L2939.5 939.7L2942.9 932.8"/></g>
<rect x="2512.0" y="67.5" width="397.6" height="567.9" rx="10" fill="#fff" fill-opacity="0.8" stroke="#ccc" stroke-opacity="0.8" stroke-width="1.8"/><line x1="2537.6" x2="2683.3" y1="137.5" y2="137.5" stroke="#000" stroke-opacity="0.8" stroke-width="4.5"/><line x1="2537.6" x2="2683.3" y1="251.5" y2="251.5" stroke="#1f77b4" stroke-width="7.0"/><line x1="2537.6" x2="2683.3" y1="356.5" y2="356.5" stroke="#ff7f0e" stroke-width="7.0"/><line x1="2537.6" x2="2683.3" y1="461.0" y2="461.0" stroke="#2ca02c" stroke-width="7.0"/><line x1="2537.6" x2="2683.3" y1="565.8" y2="565.8" stroke="#d62728" stroke-width="7.0"/><rect x="2736.5" y="142.4" width="115.0" height="4.4" fill="#000"/><text class="i" style="stroke-width:0.75px" font-size="50.0" x="2760.5" y="135.0">d</text><text class="r" style="stroke-width:0.53px" font-size="35.0" x="2784.1" y="114.0">2</text><text class="i" style="stroke-width:0.75px" font-size="50.0" x="2806.9" y="135.0">I</text><text class="i" style="stroke-width:0.75px" font-size="50.0" x="2736.5" y="187.2" textLength="114.0" lengthAdjust="spacingAndGlyphs">dωd<tspan font-style="normal">Ω</tspan></text><text class="g" style="stroke-width:1.02px" font-size="60" x="2732.0" y="273.3">ν</text><text class="r" style="stroke-width:0.75px" font-size="50" x="2770.0" y="285.6">1</text><text class="r" style="stroke-width:1.20px" font-size="80.0" transform="translate(2794.0 273.3) scale(0.75 1)">(</text><text class="i" style="stroke-width:1.09px" font-size="73" x="2817.5" y="273.3">ζ</text><text class="r" style="stroke-width:1.20px" font-size="80.0" transform="translate(2853.0 273.3) scale(0.75 1)">)</text><text class="g" style="stroke-width:1.02px" font-size="60" x="2732.0" y="378.3">ν</text><text class="r" style="stroke-width:0.75px" font-size="50" x="2770.0" y="390.6">3</text><text class="r" style="stroke-width:1.20px" font-size="80.0" transform="translate(2794.0 378.3) scale(0.75 1)">(</text><text class="i" style="stroke-width:1.09px" font-size="73" x="2817.5" y="378.3">ζ</text><text class="r" style="stroke-width:1.20px" font-size="80.0" transform="translate(2853.0 378.3) scale(0.75 1)">)</text><text class="g" style="stroke-width:1.02px" font-size="60" x="2732.0" y="483.3">ν</text><text class="r" style="stroke-width:0.75px" font-size="50" x="2770.0" y="495.6">5</text><text class="r" style="stroke-width:1.20px" font-size="80.0" transform="translate(2794.0 483.3) scale(0.75 1)">(</text><text class="i" style="stroke-width:1.09px" font-size="73" x="2817.5" y="483.3">ζ</text><text class="r" style="stroke-width:1.20px" font-size="80.0" transform="translate(2853.0 483.3) scale(0.75 1)">)</text><text class="g" style="stroke-width:1.02px" font-size="60" x="2732.0" y="588.3">ν</text><text class="r" style="stroke-width:0.75px" font-size="50" x="2770.0" y="600.6">7</text><text class="r" style="stroke-width:1.20px" font-size="80.0" transform="translate(2794.0 588.3) scale(0.75 1)">(</text><text class="i" style="stroke-width:1.09px" font-size="73" x="2817.5" y="588.3">ζ</text><text class="r" style="stroke-width:1.20px" font-size="80.0" transform="translate(2853.0 588.3) scale(0.75 1)">)</text>
<g clip-path="url(#cTR)"><path class="c" stroke-linecap="square" stroke="#1f77b4" stroke-width="7.0" d="M2140.5 943.4L2140.4 852.2L2140.3 803.4L2139.9 769.8L2139.1 743.7L2138.5 731.8L2137.8 720.9L2136.9 711.2L2135.9 702.5L2134.5 693.8L2133.1 686.2L2131.3 678.6L2129.4 672.1L2127.2 665.6L2125.1 660.1L2122.1 653.6L2119.3 648.2L2115.4 641.7L2111.7 636.3L2107.7 630.8L2103.2 625.4L2099.3 621.1L2094.2 615.7L2089.8 611.3L2084 605.9L2074.1 597.2L2049.9 576.6L2043.8 571.2L2038 565.7L2032.5 560.3L2028.4 556L2024.7 551.6L2021.2 547.3L2017.4 541.9L2014.8 537.5L2012 532.1L2010.2 527.7L2008.5 522.3L2007.5 518L2007 513.6L2006.8 509.3L2007 505L2007.5 500.6L2008.5 496.3L2010.2 490.9L2012 486.5L2014.8 481.1L2017.4 476.7L2021.2 471.3L2024.7 467L2028.4 462.6L2032.5 458.3L2038 452.9L2043.8 447.4L2049.9 442L2074.1 421.4L2084 412.7L2089.8 407.3L2094.2 402.9L2099.3 397.5L2103.2 393.2L2107.7 387.8L2111.7 382.3L2115.4 376.9L2119.3 370.4L2122.1 365L2125.1 358.5L2127.2 353L2129.4 346.5L2131.3 340L2133.1 332.4L2134.5 324.8L2135.9 316.1L2136.9 307.4L2137.8 297.7L2138.5 286.8L2139.1 274.9L2139.9 248.8L2140.3 215.2L2140.4 166.4L2140.5 75.2"/><path class="c" stroke-linecap="square" stroke="#ff7f0e" stroke-width="7.0" d="M2541.7 943.4L2541.5 852.2L2541.3 825.1L2541 803.4L2540.5 785L2539.8 769.8L2538.8 755.7L2537.6 743.7L2535.8 731.8L2534.8 726.4L2533.6 720.9L2532.2 715.5L2530.9 711.2L2529.4 706.8L2527.8 702.5L2525.9 698.1L2523.8 693.8L2521.4 689.5L2519.4 686.2L2516.4 681.9L2514 678.6L2511.3 675.3L2508.4 672.1L2505.2 668.8L2501.8 665.6L2495.4 660.1L2491.1 656.9L2486.5 653.6L2478 648.2L2472.4 645L2466.4 641.7L2455.4 636.3L2443.2 630.8L2429.8 625.4L2418.2 621.1L2402.7 615.7L2389.5 611.3L2372.1 605.9L2342.6 597.2L2270 576.6L2251.6 571.2L2234.1 565.7L2217.7 560.3L2205.5 556L2194.3 551.6L2183.9 547.3L2176.9 544L2172.5 541.9L2164.6 537.5L2159.4 534.3L2156.2 532.1L2153.4 529.9L2150.8 527.7L2147.5 524.5L2145.6 522.3L2144.1 520.2L2142.8 518L2141.8 515.8L2141.1 513.6L2140.6 511.5L2140.5 509.3L2140.6 507.1L2141.1 505L2141.8 502.8L2142.8 500.6L2144.1 498.4L2145.6 496.3L2147.5 494.1L2150.8 490.9L2153.4 488.7L2156.2 486.5L2159.4 484.3L2164.6 481.1L2172.5 476.7L2176.9 474.6L2183.9 471.3L2194.3 467L2205.5 462.6L2217.7 458.3L2234.1 452.9L2251.6 447.4L2270 442L2342.6 421.4L2372.1 412.7L2389.5 407.3L2402.7 402.9L2418.2 397.5L2429.8 393.2L2443.2 387.8L2455.4 382.3L2466.4 376.9L2472.4 373.6L2478 370.4L2486.5 365L2491.1 361.7L2495.4 358.5L2501.8 353L2505.2 349.8L2508.4 346.5L2511.3 343.3L2514 340L2516.4 336.7L2519.4 332.4L2521.4 329.1L2523.8 324.8L2525.9 320.5L2527.8 316.1L2529.4 311.8L2530.9 307.4L2532.2 303.1L2533.6 297.7L2534.8 292.2L2535.8 286.8L2537.6 274.9L2538.8 262.9L2539.8 248.8L2540.5 233.6L2541 215.2L2541.3 193.5L2541.5 166.4L2541.7 75.2"/><path class="c" stroke-linecap="square" stroke="#2ca02c" stroke-width="7.0" d="M2942.9 943.4L2942.6 852.2L2942.3 825.1L2941.8 803.4L2940.9 785L2939.8 769.8L2939 762.2L2938.1 755.7L2937.1 749.1L2936.1 743.7L2934.6 737.2L2933.1 731.8L2931.4 726.4L2929.4 720.9L2927.1 715.5L2924.9 711.2L2922.5 706.8L2919.7 702.5L2916.6 698.1L2913 693.8L2909 689.5L2905.7 686.2L2900.8 681.9L2896.7 678.6L2892.2 675.3L2887.4 672.1L2882.1 668.8L2876.4 665.6L2865.7 660.1L2858.6 656.9L2850.9 653.6L2836.7 648.2L2827.4 645L2817.3 641.7L2799.1 636.3L2778.8 630.8L2756.5 625.4L2737.1 621.1L2711.2 615.7L2689.2 611.3L2660.2 605.9L2611.1 597.2L2490 576.6L2459.4 571.2L2430.3 565.7L2403 560.3L2382.6 556L2363.8 551.6L2346.6 547.3L2334.9 544L2327.6 541.9L2314.4 537.5L2305.7 534.3L2300.5 532.1L2295.7 529.9L2291.4 527.7L2285.9 524.5L2282.8 522.3L2280.2 520.2L2278 518L2276.4 515.8L2275.2 513.6L2274.5 511.5L2274.2 509.3L2274.5 507.1L2275.2 505L2276.4 502.8L2278 500.6L2280.2 498.4L2282.8 496.3L2285.9 494.1L2291.4 490.9L2295.7 488.7L2300.5 486.5L2305.7 484.3L2314.4 481.1L2327.6 476.7L2334.9 474.6L2346.6 471.3L2363.8 467L2382.6 462.6L2403 458.3L2430.3 452.9L2459.4 447.4L2490 442L2611.1 421.4L2660.2 412.7L2689.2 407.3L2711.2 402.9L2737.1 397.5L2756.5 393.2L2778.8 387.8L2799.1 382.3L2817.3 376.9L2827.4 373.6L2836.7 370.4L2850.9 365L2858.6 361.7L2865.7 358.5L2876.4 353L2882.1 349.8L2887.4 346.5L2892.2 343.3L2896.7 340L2900.8 336.7L2905.7 332.4L2909 329.1L2913 324.8L2916.6 320.5L2919.7 316.1L2922.5 311.8L2924.9 307.4L2927.1 303.1L2929.4 297.7L2931.4 292.2L2933.1 286.8L2934.6 281.4L2936.1 274.9L2937.1 269.5L2938.1 262.9L2939 256.4L2939.8 248.8L2940.9 233.6L2941.8 215.2L2942.3 193.5L2942.6 166.4L2942.9 75.2"/><path class="c" stroke-linecap="square" stroke="#d62728" stroke-width="7.0" d="M3344.1 943.4L3344 888.1L3343.7 852.2L3343.3 825.1L3342.5 803.4L3342 793.6L3341.3 785L3340.6 777.4L3339.7 769.8L3338.6 762.2L3337.4 755.7L3336 749.1L3334.5 743.7L3332.5 737.2L3330.4 731.8L3328 726.4L3325.2 720.9L3322 715.5L3318.9 711.2L3315.5 706.8L3311.6 702.5L3307.2 698.1L3302.3 693.8L3296.7 689.5L3292 686.2L3285.2 681.9L3279.4 678.6L3273.2 675.3L3266.4 672.1L3259 668.8L3251 665.6L3242.2 662.3L3236 660.1L3226.1 656.9L3215.3 653.6L3195.5 648.2L3182.4 645L3168.3 641.7L3142.7 636.3L3114.3 630.8L3083.1 625.4L3056 621.1L3019.8 615.7L2988.9 611.3L2948.3 605.9L2879.6 597.2L2710 576.6L2667.2 571.2L2626.4 565.7L2588.2 560.3L2559.7 556L2533.4 551.6L2509.3 547.3L2492.9 544L2482.7 541.9L2464.2 537.5L2452 534.3L2444.7 532.1L2438 529.9L2432 527.7L2424.3 524.5L2420 522.3L2416.3 520.2L2413.3 518L2411 515.8L2409.3 513.6L2408.3 511.5L2408 510.4L2408 509.3L2408 508.2L2408.3 507.1L2409.3 505L2411 502.8L2413.3 500.6L2416.3 498.4L2420 496.3L2424.3 494.1L2432 490.9L2438 488.7L2444.7 486.5L2452 484.3L2464.2 481.1L2482.7 476.7L2492.9 474.6L2509.3 471.3L2533.4 467L2559.7 462.6L2588.2 458.3L2626.4 452.9L2667.2 447.4L2710 442L2879.6 421.4L2948.3 412.7L2988.9 407.3L3019.8 402.9L3056 397.5L3083.1 393.2L3114.3 387.8L3142.7 382.3L3168.3 376.9L3182.4 373.6L3195.5 370.4L3215.3 365L3226.1 361.7L3236 358.5L3242.2 356.3L3251 353L3259 349.8L3266.4 346.5L3273.2 343.3L3279.4 340L3285.2 336.7L3292 332.4L3296.7 329.1L3302.3 324.8L3307.2 320.5L3311.6 316.1L3315.5 311.8L3318.9 307.4L3322 303.1L3325.2 297.7L3328 292.2L3330.4 286.8L3332.5 281.4L3334.5 274.9L3336 269.5L3337.4 262.9L3338.6 256.4L3339.7 248.8L3340.6 241.2L3341.3 233.6L3342 225L3342.5 215.2L3343.3 193.5L3343.7 166.4L3344 130.5L3344.1 75.2"/></g>
<rect x="1939.9" y="33.0" width="1005.1" height="952.6" fill="none" stroke="#000" stroke-width="2.2"/><line x1="1939.9" x2="1939.9" y1="985.6" y2="996.1" stroke="#000" stroke-width="2.2"/><text class="t" text-anchor="middle" x="1936.4" y="1052.8">0</text><line x1="2341.1" x2="2341.1" y1="985.6" y2="996.1" stroke="#000" stroke-width="2.2"/><text class="t" text-anchor="middle" x="2337.6" y="1052.8">2</text><line x1="2742.3" x2="2742.3" y1="985.6" y2="996.1" stroke="#000" stroke-width="2.2"/><text class="t" text-anchor="middle" x="2738.8" y="1052.8">4</text><line x1="1929.4" x2="1939.9" y1="943.3" y2="943.3" stroke="#000" stroke-width="2.2"/><text class="t" text-anchor="end" x="1921.6" y="966.9">0.0</text><line x1="1929.4" x2="1939.9" y1="769.7" y2="769.7" stroke="#000" stroke-width="2.2"/><text class="t" text-anchor="end" x="1921.6" y="793.3">0.2</text><line x1="1929.4" x2="1939.9" y1="596.1" y2="596.1" stroke="#000" stroke-width="2.2"/><text class="t" text-anchor="end" x="1921.6" y="619.7">0.4</text><line x1="1929.4" x2="1939.9" y1="422.4" y2="422.4" stroke="#000" stroke-width="2.2"/><text class="t" text-anchor="end" x="1921.6" y="446.0">0.6</text><line x1="1929.4" x2="1939.9" y1="248.8" y2="248.8" stroke="#000" stroke-width="2.2"/><text class="t" text-anchor="end" x="1921.6" y="272.4">0.8</text><line x1="1929.4" x2="1939.9" y1="75.2" y2="75.2" stroke="#000" stroke-width="2.2"/><text class="t" text-anchor="end" x="1921.6" y="98.8">1.0</text><line x1="2945.0" x2="2955.5" y1="943.4" y2="943.4" stroke="#000" stroke-width="2.2"/><text class="t" transform="translate(2956.9 969.6) scale(1.37 0.85)">−</text><text class="t" x="3008.5" y="967.0">1.0</text><line x1="2945.0" x2="2955.5" y1="726.4" y2="726.4" stroke="#000" stroke-width="2.2"/><text class="t" transform="translate(2956.9 752.6) scale(1.37 0.85)">−</text><text class="t" x="3008.5" y="750.0">0.5</text><line x1="2945.0" x2="2955.5" y1="509.3" y2="509.3" stroke="#000" stroke-width="2.2"/><text class="t" x="2957.5" y="532.9">0.0</text><line x1="2945.0" x2="2955.5" y1="292.2" y2="292.2" stroke="#000" stroke-width="2.2"/><text class="t" x="2957.5" y="315.9">0.5</text><line x1="2945.0" x2="2955.5" y1="75.2" y2="75.2" stroke="#000" stroke-width="2.2"/><text class="t" x="2957.5" y="98.8">1.0</text><text class="i" style="stroke-width:1.08px" font-size="72" transform="translate(3194.1 525.8) rotate(-90)">ζ</text><g transform="translate(1736.9 508.3) rotate(-90)"><rect x="-77.0" y="-2.0" width="154.0" height="4.0" fill="#000"/><text class="i" style="stroke-width:0.93px" font-size="62.0" x="-43.2" y="-11.3">d</text><text class="r" style="stroke-width:0.65px" font-size="43.4" x="-12.7" y="-37.3">2</text><text class="i" style="stroke-width:0.93px" font-size="62.0" x="16.6" y="-11.3">I</text><text class="i" style="stroke-width:0.93px" font-size="62.0" x="-77.0" y="56.4" textLength="152.8" lengthAdjust="spacingAndGlyphs">dωd<tspan font-style="normal">Ω</tspan></text></g><text class="g" style="stroke-width:1.05px" font-size="62" text-anchor="middle" x="2440.4" y="1160.6">ν</text></g>
<g id="BL"><g clip-path="url(#cBL)"><path class="c" stroke="#000" stroke-width="3.4" d="M287.1 2161.9L370.1 2161.8L379.4 2161.4L382.6 2160.9L385.4 2160.1L388.8 2158.5L391.6 2156.4L394.2 2153.3L396.4 2149.4L398.4 2144.7L400.4 2138.4L402.2 2131.1L403.8 2122.9L405.9 2110L407.7 2095.3L409.5 2077.2L411.1 2057.9L412.7 2035.2L414.3 2008.6L417.3 1947.4L420.1 1875.4L423.1 1782.8L431.7 1468.1L434.3 1382.9L435.9 1341.3L437.3 1314.2L438.2 1303.4L438.8 1297.8L439.4 1294.4L439.8 1293.5L440 1293.4L440.4 1294.1L440.8 1295.9L441.6 1302.9L443 1326.7L444.4 1365.7L445.8 1419.9L448.6 1569.7L453.8 1923.2L455.8 2042.8L456.8 2090.6L457.8 2127.6L458.8 2151.8L459.4 2159.6L459.8 2161.7L460 2161.9L460.2 2161.4L460.4 2160.3L460.8 2156.1L461.6 2139.9L462.4 2113.3L463.4 2065.9L465.4 1929.9L470.4 1509.9L472.1 1423.7L472.9 1401.2L473.5 1394.9L473.7 1395L473.9 1396.1L474.1 1398.4L474.7 1411.9L475.3 1435.4L476.1 1482L477.7 1619.6L481.7 2039.2L483.1 2129L483.7 2150.2L484.1 2158.3L484.5 2161.7L484.7 2161.8L484.9 2160.7L485.3 2155.5L486.3 2127.2L489.1 1997.4L490.1 1960.1L491.1 1937.4L491.5 1933L491.9 1931.2L492.1 1931.3L492.3 1932.1L492.9 1937.8L493.9 1957.4L497.7 2076.3L499.7 2124.1L500.7 2139.8L501.9 2152.2L503.1 2158.9L503.9 2161L504.8 2161.8L505.4 2161.8L506.2 2161.3L508.8 2158L510 2156.8L511 2156.2L512 2155.9L513 2156L514.2 2156.5L519 2159.4L521.6 2160.7L524.4 2161.5L527.4 2161.8L615.1 2161.8L630.9 2161.5L637.1 2161L642 2160.4L646.6 2159.5L650.6 2158.3L654 2156.8L657.2 2154.9L660 2152.8L662.6 2150.5L665 2147.8L667.4 2144.7L669.8 2141L672.3 2136.7L674.5 2132.3L676.7 2127.2L680.9 2115.9L685.5 2101.3L689.5 2086.9L698.1 2054L702.7 2038.7L705.4 2031.7L707.6 2027.3L708.8 2025.5L709.8 2024.5L710.8 2023.9L711.8 2023.6L713 2023.9L714.2 2024.8L715.4 2026.3L716.4 2028L718.6 2033.4L720.8 2040.9L723 2050.6L725.6 2064.3L735 2122.2L738.7 2141.5L740.7 2149.9L742.7 2156.2L743.7 2158.6L744.7 2160.3L745.7 2161.4L746.7 2161.9L747.9 2161.7L749.1 2160.6L750.3 2158.8L751.7 2155.7L754.5 2147.2L760.3 2125.3L762.9 2116.8L764.3 2113.2L765.7 2110.6L767.1 2109L768.3 2108.5L769.5 2108.9L770.7 2110.1L772 2112L773.2 2114.7L775.8 2122.7L781.6 2145L784.2 2153.6L785.6 2157.1L787 2159.7L788.4 2161.3L789.6 2161.9L790.4 2161.8L791.4 2161.3L793.2 2159.2L795.4 2155L799.6 2145.1L801.6 2141L802.8 2139L803.8 2137.8L804.8 2137L805.9 2136.6L806.9 2136.7L807.9 2137.2L808.9 2138.1L809.9 2139.5L812.1 2143.5L816.3 2153.1L818.3 2157.1L820.5 2160.3L821.5 2161.2L822.5 2161.7L824.1 2161.8L825.9 2160.9L827.7 2159.2L831.5 2154.6L833.3 2152.7L835.1 2151.4L836.9 2151L838.5 2151.4L840.2 2152.4L841.8 2153.9L847 2159.6L848.8 2160.9L850.6 2161.7L852 2161.9L853.6 2161.7L859.8 2159.3L862.8 2158.8L865.8 2159.3L872.3 2161.5L875.7 2161.9L878.1 2161.7L883.9 2160.8L886.7 2160.6L900.3 2161.5L905.3 2161.6L910.2 2161.4L918.6 2160.4L928.6 2158.2L937.8 2155.5L945.7 2152.3L953.5 2148.1L966.3 2140.4L972.3 2137.4L975 2136.4L977.4 2135.7L979.8 2135.3L982.2 2135.2L985 2135.4L987.6 2136L990.4 2137.1L993.2 2138.7L996 2140.6L999 2143.1L1010.3 2153.8L1015.1 2157.8L1017.7 2159.5L1020.1 2160.6L1022.5 2161.5L1024.9 2161.9L1027.9 2161.8L1031.1 2161.1L1034.5 2159.9L1041.8 2156.5L1044.8 2155.3L1048.2 2154.4L1051.6 2154.1L1054.4 2154.3L1057.2 2155L1060.4 2156.2L1070.6 2160.6L1074.1 2161.5L1077.5 2161.9L1081.9 2161.6L1092.5 2159.2L1095.3 2158.8L1097.9 2158.7L1102.5 2159.1L1113 2161.3L1118 2161.9L1122.4 2161.8L1132.2 2160.5L1137.2 2160.3L1141.5 2160.5L1150.7 2161.5L1155.7 2161.8L1181 2161.9L1186.6 2161.4L1197.8 2159.8L1203 2159.3L1208.3 2159.2L1220.9 2159.4L1227.5 2159.1L1233.3 2158.5L1246 2156.6L1252.8 2156.1L1257.2 2156.3L1262.2 2156.8L1280.9 2159.9L1290.1 2161.2"/>
<path class="c" stroke="#1f77b4" stroke-width="3.4" stroke-dasharray="13.6 5.2" d="M287.1 2161.9L370.1 2161.8L379.4 2161.3L382.6 2160.8L385.2 2160.1L388.6 2158.6L391.4 2156.5L394 2153.4L396.2 2149.7L398.2 2145L400.2 2138.8L402 2131.6L403.8 2122.5L405.9 2109.4L407.7 2094.7L409.5 2076.5L411.1 2057.1L412.7 2034.2L414.3 2007.5L417.3 1946L420.1 1873.8L423.1 1781.1L431.5 1473.6L434.3 1381.8L435.9 1340.4L437.3 1313.6L438.2 1303L438.8 1297.5L439.4 1294.3L439.8 1293.4L440 1293.4L440.4 1294.2L440.8 1296.1L441.6 1303.3L443 1327.5L444.4 1366.9L445.8 1421.5L448.6 1571.9L453.8 1925.2L455.8 2044.4L456.8 2091.9L457.8 2128.5L458.8 2152.3L459.4 2159.8L459.8 2161.8L460 2161.8L460.2 2161.3L460.4 2160L460.8 2155.7L461.6 2139.1L462.4 2112.1L463.4 2064.2L465.4 1927.3L469 1614L470.4 1506.1L472.1 1420.1L472.9 1397.8L473.5 1391.7L473.7 1391.8L473.9 1393L474.1 1395.3L474.7 1409.1L475.3 1432.9L476.1 1479.8L477.5 1598.3L481.7 2039.2L483.1 2129.1L483.7 2150.3L484.1 2158.4L484.5 2161.8L484.7 2161.8L484.9 2160.7L485.3 2155.4L486.3 2126.8L489.1 1996.3L490.1 1958.8L491.1 1936L491.5 1931.6L491.9 1929.8L492.1 1929.9L492.3 1930.7L492.9 1936.4L493.9 1956.2L497.7 2075.8L499.7 2123.8L500.7 2139.6L501.9 2152.1L503.1 2158.8L503.9 2161L504.8 2161.8L505.4 2161.8L506.2 2161.3L508.8 2158L510 2156.8L511 2156.1L512.2 2155.9L514.2 2156.4L519.2 2159.5L522.2 2160.9L525.6 2161.7L529.8 2161.9L1290.1 2161.9"/>
<path class="c" stroke="#ff7f0e" stroke-width="3.4" d="M287.1 2161.9L590.2 2161.9L607.5 2161.8L617.3 2161.5L623.9 2160.9L629.1 2160.1L633.5 2158.7L637.5 2156.8L641.2 2154.3L644.4 2151L647.4 2146.8L650 2142.1L652 2137.6L654 2132.2L655.8 2126.5L657.6 2119.8L661 2104.2L664 2086.4L667 2064.3L669.8 2039.1L672.7 2008.9L675.3 1976.1L677.7 1941.3L680.1 1902.2L685.1 1807L689.7 1704.9L699.3 1475.3L703.7 1383.9L706.2 1344.2L708.6 1314.6L709.8 1304.3L710.8 1298.2L711.8 1294.5L712.4 1293.5L712.8 1293.4L713.4 1294L714 1295.5L715 1300.3L716.2 1309.8L717.2 1320.8L719.4 1355.2L721.8 1408.1L724.2 1475.9L726.6 1556.4L735.6 1906.7L739.3 2029L741.5 2087.6L743.5 2127.2L744.5 2141.6L745.5 2152.2L746.3 2157.9L746.7 2159.8L747.3 2161.5L747.5 2161.8L747.9 2161.9L748.5 2160.8L749.1 2158.5L749.7 2154.9L750.9 2143.8L752.3 2125.1L755.1 2072.4L761.1 1929.9L763.7 1876.7L765.1 1854.6L766.5 1838.3L767.3 1831.9L767.9 1828.6L768.5 1826.5L769.1 1825.8L769.5 1826.1L770.1 1827.6L771.3 1834.5L772.6 1846.5L773.8 1863.1L776.6 1917.1L782.2 2052.8L784.8 2107.4L786.2 2130.3L787.6 2147.3L789 2157.9L789.6 2160.4L790 2161.4L790.4 2161.9L790.8 2161.8L791.4 2160.7L792.4 2156.5L793.4 2149.3L794.6 2137.4L796.6 2111.5L801 2046.2L803.2 2020.4L804.2 2012L805 2007.1L806.1 2003.5L806.5 2002.8L806.9 2002.5L807.3 2002.8L807.9 2004L808.9 2008.1L809.9 2014.9L811.1 2026.1L813.1 2050.6L817.7 2116.1L820.1 2143.1L821.1 2151.2L822.1 2157.1L823.1 2160.6L823.5 2161.4L824.1 2161.9L824.5 2161.8L824.9 2161.3L825.7 2159.4L827.3 2152.1L828.9 2141.5L832.5 2113.8L834.3 2102.8L835.1 2099.2L835.9 2096.6L836.7 2095.1L837.1 2094.7L837.5 2094.7L838.3 2095.3L839.2 2097L840 2099.7L841 2104.3L842.8 2115.2L846.6 2141.8L848.6 2152.9L849.6 2157L850.6 2159.8L851.4 2161.2L852.4 2161.9L853 2161.8L853.6 2161.2L855 2158.8L859.2 2147.1L860.8 2143.4L862.2 2141.4L863.4 2140.8L864 2140.8L864.8 2141.4L866.4 2143.6L867.8 2146.5L871.4 2155.2L873.5 2159L875.3 2161.1L876.1 2161.6L877.1 2161.9L878.1 2161.8L879.3 2161.4L884.3 2158.5L886.7 2158L889.3 2158.5L895.9 2161.3L898.1 2161.8L900.3 2161.9L909 2161.6L923.6 2161.9L1290.1 2161.9"/>
<path class="c" stroke="#2ca02c" stroke-width="3.4" d="M287.1 2161.9L827.1 2161.9L861.8 2161.7L870.8 2161.4L877.7 2160.8L883.5 2159.8L888.3 2158.5L892.7 2156.7L896.7 2154.3L900.3 2151.3L903.5 2147.8L906.4 2143.9L909 2139.4L911.4 2134.4L913.8 2128.5L916 2122.1L918.2 2114.6L920.4 2105.9L922.4 2096.8L926.2 2076.2L930 2050.5L933.6 2020.6L937 1987L940.3 1950.2L943.3 1911L946.5 1864L949.7 1812L955.5 1706.7L967.3 1475.3L970.1 1425.2L972.8 1383.5L975.8 1343.2L977.2 1327.9L978.6 1315.1L980 1305.1L981.2 1298.9L982 1296L982.6 1294.5L983.2 1293.6L983.8 1293.4L984.6 1294L985.2 1295.3L986.6 1300.7L988 1309.8L989.2 1320.4L990.6 1336.3L992 1355.9L994.8 1405.6L997.6 1468.5L1000.6 1548.3L1003.8 1644L1011.9 1896.4L1014.3 1965.3L1016.5 2021.8L1019.1 2078.2L1021.7 2121L1022.9 2135.8L1024.1 2147.3L1025.3 2155.4L1026.5 2160.3L1027.1 2161.5L1027.5 2161.9L1027.9 2161.9L1028.7 2160.8L1029.5 2158.4L1031.1 2149.8L1032.7 2136.6L1034.3 2119.3L1036.1 2096L1043.2 1990L1046.4 1948.1L1048.2 1930L1049.8 1918.2L1050.6 1913.9L1051.4 1910.8L1052.2 1908.9L1053 1908.2L1053.6 1908.4L1054.4 1909.8L1055.8 1915.1L1057.2 1923.9L1058.8 1937.9L1060.4 1955.5L1062 1976L1069 2079.6L1072 2118.1L1073.9 2136.3L1075.5 2148.6L1076.5 2154.3L1077.3 2157.8L1078.1 2160.2L1078.9 2161.5L1079.3 2161.8L1079.9 2161.8L1080.5 2161.3L1081.1 2160.2L1082.3 2156.6L1083.5 2151.2L1086.1 2134.6L1091.5 2091.2L1094.1 2073.2L1095.5 2065.8L1096.9 2060.5L1098.3 2057.4L1098.9 2056.8L1099.5 2056.6L1100.1 2056.9L1100.7 2057.6L1102.1 2061L1103.3 2065.5L1104.7 2072.6L1107.2 2088.2L1113 2131.7L1115.8 2148.5L1117 2153.8L1118.2 2157.9L1119.4 2160.5L1120.6 2161.8L1121.4 2161.9L1122.4 2161.2L1123.4 2159.7L1124.4 2157.4L1126.6 2150.4L1131.2 2132.1L1133.4 2124.6L1134.6 2121.4L1135.8 2119.2L1137 2117.8L1138 2117.5L1139 2117.9L1140.3 2119.2L1141.5 2121.4L1142.7 2124.4L1144.7 2130.7L1149.7 2148.8L1152.1 2155.8L1153.3 2158.4L1154.3 2160.1L1155.3 2161.2L1156.5 2161.8L1157.3 2161.9L1158.1 2161.6L1159.7 2160.3L1161.7 2157.5L1165.7 2150.2L1167.7 2147.1L1168.9 2145.8L1169.9 2144.9L1170.9 2144.4L1171.9 2144.3L1172.9 2144.5L1174 2145.1L1176 2147L1177.8 2149.5L1182.2 2156.5L1184.4 2159.4L1186.4 2161.1L1188.4 2161.9L1189.8 2161.8L1191.4 2161.3L1193 2160.4L1198.4 2156.7L1200.4 2155.9L1202.2 2155.7L1204 2155.9L1205.8 2156.6L1211.7 2160L1213.7 2161L1215.5 2161.6L1217.3 2161.9L1220.1 2161.7L1226.5 2160.4L1229.9 2160.1L1232.7 2160.3L1240 2161.5L1243.8 2161.9L1255.6 2161.5L1268 2161.9L1290.1 2161.9"/>
<path class="c" stroke="#d62728" stroke-width="3.4" d="M287.1 2161.9L1111.2 2161.8L1121.8 2161.5L1130 2161.1L1136.8 2160.4L1142.5 2159.3L1147.5 2157.9L1152.1 2156L1156.3 2153.6L1160.1 2150.6L1163.5 2147.1L1166.7 2143L1169.7 2138.2L1172.7 2132.4L1175.6 2125.8L1178.2 2118.6L1180.6 2110.9L1183 2102L1185.4 2091.9L1187.6 2081.3L1189.8 2069.4L1192 2056.2L1196.2 2026.6L1200.2 1992.7L1203.8 1957.1L1207.5 1916.4L1211.1 1870.6L1214.9 1816.8L1221.5 1712L1235.3 1474.3L1238.5 1424.2L1241.6 1382.2L1245 1342.4L1246.6 1327.2L1248 1316L1249.6 1305.7L1251 1299.2L1252.4 1295.1L1253.2 1293.8L1253.8 1293.4L1254.4 1293.5L1254.8 1293.8L1255.6 1295.2L1256.6 1298L1257.4 1301.3L1259.2 1312.1L1260.8 1325.6L1262.6 1345.1L1264.4 1369.2L1266.2 1397.6L1268 1430.3L1271 1493.3L1274.3 1570.2L1285.5 1873.9L1290.1 1987.2"/>
</g><rect x="955.9" y="1274.3" width="312.8" height="413.6" rx="7" fill="#fff" fill-opacity="0.8" stroke="#ccc" stroke-opacity="0.8" stroke-width="1.8"/><line x1="971.6" x2="1069.6" y1="1320.1" y2="1320.1" stroke="#000" stroke-opacity="0.8" stroke-width="4.5"/><line x1="971.6" x2="1069.6" y1="1404.6" y2="1404.6" stroke="#1f77b4" stroke-opacity="0.8" stroke-width="4.5" stroke-dasharray="13.6 5.2"/><line x1="971.6" x2="1069.6" y1="1481.9" y2="1481.9" stroke="#ff7f0e" stroke-opacity="0.8" stroke-width="4.5"/><line x1="971.6" x2="1069.6" y1="1561.7" y2="1561.7" stroke="#2ca02c" stroke-opacity="0.8" stroke-width="4.5"/><line x1="971.6" x2="1069.6" y1="1639.5" y2="1639.5" stroke="#d62728" stroke-opacity="0.8" stroke-width="4.5"/><rect x="1104.3" y="1326.6" width="80.5" height="2.4" fill="#000"/><text class="i" style="stroke-width:0.51px" font-size="34.0" x="1121.5" y="1320.3">d</text><text class="r" style="stroke-width:0.36px" font-size="23.8" x="1137.8" y="1306.0">2</text><text class="i" style="stroke-width:0.51px" font-size="34.0" x="1153.4" y="1320.3">I</text><text class="i" style="stroke-width:0.51px" font-size="34.0" x="1104.3" y="1356.0" textLength="79.8" lengthAdjust="spacingAndGlyphs">dωd<tspan font-style="normal">Ω</tspan></text><text class="r" stroke="none" style="stroke:none" font-size="50" x="1101.0" y="1421.2">|</text><text class="i" style="stroke-width:0.73px" font-size="49" x="1113.8" y="1421.2">f</text><text class="r" style="stroke-width:0.78px" font-size="52.0" transform="translate(1142.3 1421.2) scale(0.78 1)">(</text><text class="g" style="stroke-width:0.70px" font-size="41" x="1156.8" y="1421.2">ν</text><text class="r" style="stroke-width:0.51px" font-size="34" x="1183.3" y="1429.2">1</text><text class="r" style="stroke-width:0.78px" font-size="52.0" transform="translate(1200.3 1421.2) scale(0.78 1)">)</text><text class="r" stroke="none" style="stroke:none" font-size="50" x="1214.0" y="1421.2">|</text><text class="r" style="stroke-width:0.51px" font-size="34" x="1226.8" y="1398.7">2</text><text class="r" stroke="none" style="stroke:none" font-size="50" x="1101.0" y="1498.5">|</text><text class="i" style="stroke-width:0.73px" font-size="49" x="1113.8" y="1498.5">f</text><text class="r" style="stroke-width:0.78px" font-size="52.0" transform="translate(1142.3 1498.5) scale(0.78 1)">(</text><text class="g" style="stroke-width:0.70px" font-size="41" x="1156.8" y="1498.5">ν</text><text class="r" style="stroke-width:0.51px" font-size="34" x="1183.3" y="1506.5">3</text><text class="r" style="stroke-width:0.78px" font-size="52.0" transform="translate(1200.3 1498.5) scale(0.78 1)">)</text><text class="r" stroke="none" style="stroke:none" font-size="50" x="1214.0" y="1498.5">|</text><text class="r" style="stroke-width:0.51px" font-size="34" x="1226.8" y="1476.0">2</text><text class="r" stroke="none" style="stroke:none" font-size="50" x="1101.0" y="1578.3">|</text><text class="i" style="stroke-width:0.73px" font-size="49" x="1113.8" y="1578.3">f</text><text class="r" style="stroke-width:0.78px" font-size="52.0" transform="translate(1142.3 1578.3) scale(0.78 1)">(</text><text class="g" style="stroke-width:0.70px" font-size="41" x="1156.8" y="1578.3">ν</text><text class="r" style="stroke-width:0.51px" font-size="34" x="1183.3" y="1586.3">5</text><text class="r" style="stroke-width:0.78px" font-size="52.0" transform="translate(1200.3 1578.3) scale(0.78 1)">)</text><text class="r" stroke="none" style="stroke:none" font-size="50" x="1214.0" y="1578.3">|</text><text class="r" style="stroke-width:0.51px" font-size="34" x="1226.8" y="1555.8">2</text><text class="r" stroke="none" style="stroke:none" font-size="50" x="1101.0" y="1656.1">|</text><text class="i" style="stroke-width:0.73px" font-size="49" x="1113.8" y="1656.1">f</text><text class="r" style="stroke-width:0.78px" font-size="52.0" transform="translate(1142.3 1656.1) scale(0.78 1)">(</text><text class="g" style="stroke-width:0.70px" font-size="41" x="1156.8" y="1656.1">ν</text><text class="r" style="stroke-width:0.51px" font-size="34" x="1183.3" y="1664.1">7</text><text class="r" style="stroke-width:0.78px" font-size="52.0" transform="translate(1200.3 1656.1) scale(0.78 1)">)</text><text class="r" stroke="none" style="stroke:none" font-size="50" x="1214.0" y="1656.1">|</text><text class="r" style="stroke-width:0.51px" font-size="34" x="1226.8" y="1633.6">2</text>
<rect x="287.1" y="1250.8" width="1004.7" height="955.0" fill="none" stroke="#000" stroke-width="2.2"/><line x1="287.1" x2="287.1" y1="2205.8" y2="2216.3" stroke="#000" stroke-width="2.2"/><text class="t" text-anchor="middle" x="283.6" y="2270.8">0</text><line x1="688.3" x2="688.3" y1="2205.8" y2="2216.3" stroke="#000" stroke-width="2.2"/><text class="t" text-anchor="middle" x="684.8" y="2270.8">2</text><line x1="1089.5" x2="1089.5" y1="2205.8" y2="2216.3" stroke="#000" stroke-width="2.2"/><text class="t" text-anchor="middle" x="1086.0" y="2270.8">4</text><line x1="276.6" x2="287.1" y1="2161.9" y2="2161.9" stroke="#000" stroke-width="2.2"/><text class="t" text-anchor="end" x="268.8" y="2185.5">0.0</text><line x1="276.6" x2="287.1" y1="1988.2" y2="1988.2" stroke="#000" stroke-width="2.2"/><text class="t" text-anchor="end" x="268.8" y="2011.8">0.2</text><line x1="276.6" x2="287.1" y1="1814.5" y2="1814.5" stroke="#000" stroke-width="2.2"/><text class="t" text-anchor="end" x="268.8" y="1838.1">0.4</text><line x1="276.6" x2="287.1" y1="1640.8" y2="1640.8" stroke="#000" stroke-width="2.2"/><text class="t" text-anchor="end" x="268.8" y="1664.4">0.6</text><line x1="276.6" x2="287.1" y1="1467.1" y2="1467.1" stroke="#000" stroke-width="2.2"/><text class="t" text-anchor="end" x="268.8" y="1490.7">0.8</text><line x1="276.6" x2="287.1" y1="1293.4" y2="1293.4" stroke="#000" stroke-width="2.2"/><text class="t" text-anchor="end" x="268.8" y="1317.0">1.0</text><g transform="translate(84.1 1726.1) rotate(-90)"><rect x="-77.0" y="-2.0" width="154.0" height="4.0" fill="#000"/><text class="i" style="stroke-width:0.93px" font-size="62.0" x="-43.2" y="-11.3">d</text><text class="r" style="stroke-width:0.65px" font-size="43.4" x="-12.7" y="-37.3">2</text><text class="i" style="stroke-width:0.93px" font-size="62.0" x="16.6" y="-11.3">I</text><text class="i" style="stroke-width:0.93px" font-size="62.0" x="-77.0" y="56.4" textLength="152.8" lengthAdjust="spacingAndGlyphs">dωd<tspan font-style="normal">Ω</tspan></text></g><text class="g" style="stroke-width:1.36px" font-size="80" text-anchor="middle" x="784.5" y="2397.3">ν</text></g>
<g id="BR"><g clip-path="url(#cBR)"><path class="c" stroke="#000" stroke-width="3.4" d="M1939.9 2161.9L1978.6 2161.8L1983.6 2161.6L1986.8 2160.9L1988.6 2160.1L1990.3 2159L1991.7 2157.5L1992.9 2155.7L1994.1 2153.3L1995.3 2150.1L1997.3 2142.6L1999.3 2131.3L2001.3 2114.9L2003.1 2094.9L2004.9 2069.3L2006.5 2041.3L2008.3 2004.3L2013.7 1872.9L2015.7 1829.6L2016.7 1812.6L2017.7 1799.7L2018.7 1791.9L2019.1 1790.4L2019.5 1789.8L2019.9 1790.3L2020.1 1790.9L2020.5 1793L2021.5 1802.9L2022.3 1815.9L2023.3 1838.3L2025.4 1901.4L2029.2 2055.1L2030.8 2111.5L2031.8 2138L2032.6 2152.7L2033.4 2160.6L2033.8 2161.9L2034 2161.8L2034.2 2161.2L2034.8 2156.7L2035.6 2143.9L2037.2 2096.5L2038.6 2035.7L2041.6 1884.4L2043 1826.7L2044.2 1794.5L2044.8 1786L2045.2 1783.5L2045.4 1783.2L2045.8 1784.5L2046 1786.2L2046.6 1795.1L2047.8 1829.7L2049.2 1893.9L2053 2104.1L2054.4 2150.5L2055 2159.7L2055.4 2161.9L2055.6 2161.7L2056.2 2156.1L2056.8 2143L2058.1 2095.8L2059.3 2026.1L2061.9 1847.7L2063.1 1781.4L2064.1 1746.2L2064.7 1736.1L2065.1 1734.4L2065.7 1739.6L2066.3 1754L2067.5 1808L2070.9 2052.8L2071.9 2112.8L2072.9 2151.1L2073.5 2161L2073.7 2161.9L2073.9 2161.6L2074.3 2157.2L2074.7 2148L2075.7 2104.7L2076.9 2020.7L2080.1 1751.8L2081.1 1699.3L2081.7 1682.8L2082.1 1678.7L2082.3 1678.9L2082.5 1680.5L2082.9 1688L2083.9 1730.9L2084.9 1803.1L2088.1 2089.4L2089.1 2144L2089.7 2159.5L2089.9 2161.5L2090.1 2161.8L2090.6 2157.5L2091.2 2138.7L2092.2 2076.9L2095.2 1774.4L2096.2 1690.8L2097 1649.4L2097.4 1639.1L2097.6 1636.8L2097.8 1636.3L2098.2 1641.3L2098.6 1653.9L2099.6 1716.2L2102.4 2016.5L2103.4 2107L2104.2 2150.6L2104.6 2160.3L2104.8 2161.9L2105 2161.2L2105.4 2153.1L2105.8 2136L2106.8 2056.8L2110.4 1597L2111.2 1536.1L2111.6 1519.8L2112 1513.9L2112.4 1518.6L2112.8 1533.9L2113.6 1594.2L2117 2051.8L2117.8 2125.4L2118.4 2155.3L2118.8 2161.8L2119 2161.1L2119.2 2157.6L2120 2118.4L2120.8 2045.4L2123.2 1774.5L2124.1 1723.9L2124.5 1713.8L2124.7 1712.9L2125.3 1727.3L2125.9 1766.2L2128.7 2097L2129.3 2143.6L2129.9 2161.8L2130.1 2160.6L2130.3 2155.6L2130.7 2133.7L2131.5 2044L2134.5 1444.4L2135.3 1336.3L2135.7 1306.1L2136.1 1293.4L2136.3 1293.8L2136.5 1298.6L2136.9 1321L2137.7 1411.2L2140.3 1884.1L2141.5 2048.6L2142.1 2101L2142.7 2134.6L2143.5 2156.4L2143.9 2160.5L2144.3 2161.9L2144.7 2161.6L2145.7 2159.7L2145.9 2159.7L2146.3 2160L2147.1 2161.5L2147.5 2161.9L2147.9 2161.2L2148.1 2160.3L2148.9 2151L2149.5 2136.5L2150.3 2105.7L2151.1 2062.5L2154.7 1825.9L2155.9 1780.2L2156.5 1768.5L2157.1 1764.4L2157.4 1764.5L2157.6 1765.5L2158.2 1772.5L2159.2 1796L2164.2 1988.8L2165.6 2031.5L2167 2064.4L2168.8 2094.6L2171 2119.8L2172.4 2132.1L2174 2143.9L2175.4 2152.3L2176.8 2158.5L2177.6 2160.7L2178.2 2161.6L2178.6 2161.9L2179 2161.8L2179.6 2161L2180.4 2158.7L2181 2155.9L2182.2 2147.5L2183.4 2135.4L2184.6 2119.9L2188.6 2057.2L2190.4 2032.7L2191.5 2022.4L2192.5 2014.9L2193.5 2010.7L2193.9 2010L2194.3 2009.8L2194.7 2010.3L2195.1 2011.3L2195.9 2015L2197.5 2029L2199.3 2053.4L2202.7 2109.8L2204.3 2133.4L2205.9 2151L2206.7 2156.9L2207.3 2159.9L2207.9 2161.5L2208.3 2161.9L2208.7 2161.7L2209.1 2160.8L2209.9 2157.4L2210.9 2150L2212.7 2129.3L2216.3 2075.6L2217.9 2055.2L2219.5 2041.6L2220.3 2038.2L2220.7 2037.4L2221.1 2037.2L2221.5 2037.6L2221.9 2038.7L2222.7 2042.9L2224.4 2058.2L2225.8 2077.7L2229 2128.9L2230.6 2149L2231.4 2156L2232 2159.5L2232.8 2161.8L2233.2 2161.8L2233.4 2161.6L2234 2159.7L2234.8 2154.5L2236.4 2136.1L2237.8 2112.8L2241 2051.6L2242.6 2027L2244 2013.5L2244.8 2009.8L2245.2 2009.2L2245.4 2009.2L2246 2010.3L2246.8 2014.6L2248.2 2029L2249.6 2050.5L2253.8 2126.7L2255.2 2145.4L2256.6 2157.2L2257.2 2160L2257.9 2161.5L2258.5 2161.9L2259.1 2161.2L2260.3 2157.3L2263.5 2141.8L2264.5 2138.9L2265.1 2138.2L2265.5 2138.2L2266.3 2139.3L2267.3 2142.7L2270.7 2160L2271.3 2161.5L2271.7 2161.9L2272.1 2161.6L2272.5 2160.6L2273.5 2154.2L2274.5 2141.5L2275.5 2121.7L2276.3 2100.5L2278.3 2028.2L2282.3 1841L2283.9 1776.5L2284.9 1746.2L2285.7 1728.9L2286.5 1718.6L2286.9 1716.2L2287.1 1715.7L2287.3 1715.6L2287.7 1716.9L2288.1 1720.1L2288.9 1731.7L2290.5 1774.5L2292.2 1837.3L2296.2 2018.8L2297.4 2064L2298.6 2100.5L2299.8 2127.5L2301.2 2147.8L2301.8 2153.3L2302.6 2158.1L2303.4 2160.8L2304.2 2161.8L2305 2161.8L2307 2160.5L2308 2160.3L2309 2160.6L2310.8 2161.7L2311.6 2161.9L2312.4 2161.5L2313.2 2160.3L2314.2 2157.6L2315.2 2153.4L2319.2 2130.5L2320.2 2126.9L2321 2125.7L2321.6 2126L2322 2126.7L2323.2 2131.6L2326.5 2155.2L2327.5 2160.5L2328.1 2161.8L2328.5 2161.8L2329.1 2159.9L2329.5 2157.5L2330.3 2149.2L2330.9 2139.9L2332.5 2102.2L2333.9 2055.8L2336.9 1941.2L2338.3 1897.8L2339.5 1874.2L2340.1 1868.4L2340.5 1866.8L2340.7 1866.8L2341.3 1869.7L2341.9 1876.9L2343.1 1903.6L2344.5 1951.4L2348.5 2111.3L2349.9 2146.8L2350.7 2157.9L2351.3 2161.6L2351.5 2161.9L2351.7 2161.8L2352.3 2158.9L2353.3 2146.4L2354.5 2121.5L2358.2 2031.2L2359.6 2010.6L2360.2 2006.3L2360.4 2005.6L2360.8 2005.1L2361.2 2005.9L2361.8 2009.4L2363 2024.1L2368 2127.7L2369.4 2147.6L2370 2153.5L2370.8 2158.7L2371.2 2160.3L2371.8 2161.7L2372.2 2161.9L2372.8 2161.4L2373.8 2159.1L2376.4 2151L2377.2 2149.5L2378 2148.7L2378.8 2148.8L2379.6 2149.6L2383.8 2157.9L2385 2159.4L2386.4 2160.3L2387.2 2160.4L2388 2160.3L2388.8 2159.8L2389.4 2159.1L2390.4 2157L2391.5 2153.3L2392.5 2147L2393.5 2137.4L2395.3 2109.4L2397.1 2067L2401.5 1941.6L2402.9 1917.2L2403.5 1911.9L2403.9 1910.2L2404.1 1910L2404.5 1910.8L2404.7 1911.8L2405.3 1917.2L2406.7 1943.1L2407.9 1977.2L2411.7 2104.1L2412.9 2133.3L2414.1 2152.2L2415.1 2160.1L2415.5 2161.4L2415.7 2161.8L2416.1 2161.8L2416.5 2161.2L2417.1 2159.3L2419.5 2148.1L2420.3 2146.2L2420.9 2146L2421.5 2146.9L2422.1 2148.7L2424.8 2160.6L2425.4 2161.8L2425.8 2161.8L2426 2161.4L2426.8 2157.6L2427.6 2149.2L2429 2121.9L2430.6 2072L2433.6 1951.5L2435 1902.7L2436.4 1870.3L2437.2 1861.1L2437.4 1860L2437.8 1859.1L2438 1859.3L2438.4 1861.2L2439 1867.2L2440.4 1894.6L2441.8 1936L2445.4 2057.5L2446.6 2090.3L2447.8 2116.2L2449.2 2137.5L2450.6 2150.6L2451.4 2155.3L2452.2 2158.4L2453.2 2160.7L2454.2 2161.7L2454.8 2161.9L2455.6 2161.8L2457.2 2160.8L2458.7 2159L2459.9 2156.5L2460.9 2153.5L2461.9 2149.2L2463.5 2138.6L2464.9 2124.7L2466.3 2105.9L2471.3 2020.4L2472.5 2007.5L2473.1 2003.9L2473.7 2002.5L2474.1 2002.9L2474.3 2003.4L2474.9 2006.8L2476.1 2020.5L2477.5 2046.2L2480.3 2110L2481.5 2133.4L2482.9 2152.5L2483.5 2157.4L2484.3 2161.1L2484.9 2161.9L2485.3 2161.6L2485.7 2160.7L2486.5 2157.7L2489.1 2144.8L2489.9 2142.5L2490.3 2141.9L2490.7 2141.7L2491.1 2141.8L2491.6 2142.4L2492.4 2144.4L2496 2159.2L2496.8 2161.1L2497.6 2161.9L2498 2161.8L2498.4 2161.6L2499.2 2160.3L2502.4 2152.4L2503.2 2151.4L2503.8 2151.2L2504.6 2151.7L2505.4 2152.9L2508 2159.2L2509 2161.1L2510 2161.9L2510.8 2161.6L2511.6 2160.5L2512.6 2158L2516.6 2144.6L2517.8 2142.2L2518.8 2141.5L2519.4 2141.6L2520 2142.1L2521.4 2144.5L2525.9 2156.9L2527.7 2160.7L2528.7 2161.8L2529.5 2161.8L2530.3 2161L2531.1 2159.1L2532.5 2152.6L2533.7 2143.1L2534.9 2129.3L2536.1 2110.6L2538.3 2063.7L2542.1 1960.7L2543.7 1922.6L2544.5 1908L2545.3 1897.1L2546.1 1890.7L2546.7 1889L2547.1 1889.4L2547.5 1891L2548.3 1897.7L2549.1 1909L2549.9 1924.4L2551.5 1964.4L2555.3 2074.1L2557.5 2122.5L2558.8 2140.3L2560 2152L2561.2 2158.7L2561.8 2160.5L2562.6 2161.7L2563 2161.9L2563.6 2161.8L2566 2160.1L2567.2 2159.7L2568.4 2160L2571 2161.8L2572 2161.8L2572.6 2161.4L2573.2 2160.6L2574.2 2158.1L2575.6 2152L2577 2142.9L2581 2108.1L2582.4 2097.6L2583.8 2090.3L2584.6 2088.1L2585.2 2087.5L2585.8 2087.8L2586.4 2089L2587 2091.1L2587.8 2095.1L2589.4 2106.6L2592.9 2137.2L2594.5 2149.3L2595.5 2155.1L2596.3 2158.4L2597.1 2160.7L2597.9 2161.8L2598.5 2161.9L2599.3 2161.2L2600.7 2158.1L2605.9 2138.7L2607.1 2135L2608.5 2131.5L2610.7 2127.6L2614.9 2122.5L2616.7 2119.7L2618.7 2115.7L2623.3 2104.5L2624.5 2102.6L2625.1 2102L2625.8 2101.8L2626.4 2101.9L2626.8 2102.3L2627.6 2103.6L2628.6 2106.3L2629.4 2109.6L2631.2 2119.8L2634.6 2145.3L2636 2154.4L2636.8 2158.3L2637.6 2160.9L2638 2161.6L2638.4 2161.9L2639 2161.6L2639.6 2160.3L2640.2 2158.1L2641.6 2149.4L2645.8 2108.4L2647 2098.6L2648.2 2092.3L2648.8 2090.8L2649.2 2090.4L2649.8 2090.9L2650.4 2092.5L2651.8 2100.7L2653 2111.5L2656 2143.6L2657.4 2155.1L2658.6 2160.8L2659.3 2161.8L2659.5 2161.9L2659.9 2161.6L2660.5 2160.2L2661.1 2157.6L2662.3 2149.2L2666.3 2106.3L2667.7 2093.5L2669.1 2085.1L2669.7 2083.2L2670.1 2082.4L2670.5 2082.1L2671.1 2082.4L2671.7 2083.6L2673.1 2089.4L2674.5 2098.3L2678.1 2124.2L2680.3 2136L2681.5 2140.2L2682.7 2142.8L2683.3 2143.6L2683.9 2144L2684.5 2144L2685.1 2143.7L2686.3 2141.9L2687.3 2139.3L2688.5 2134.5L2689.5 2129.2L2691.7 2113.1L2695.8 2075.4L2697.2 2064L2698 2058.9L2698.8 2055.3L2699.6 2053.2L2700.2 2052.7L2700.6 2053L2701 2053.7L2701.8 2056.3L2702.6 2060.6L2703.6 2068.1L2705.2 2083.8L2709 2126.7L2711.2 2145.9L2712.2 2152.1L2713.4 2157.3L2714.6 2160.4L2715.2 2161.3L2716 2161.8L2716.6 2161.9L2717.4 2161.6L2721.4 2158.6L2722.6 2158L2723.6 2157.8L2724.8 2157.9L2726.1 2158.2L2730.7 2160.2L2733.1 2161.1L2735.5 2161.6L2738.1 2161.9L2741.3 2161.9L2747.7 2161.3L2753.1 2161.9L2753.9 2161.7L2754.7 2161.2L2755.9 2159.7L2756.9 2157.5L2757.9 2154.1L2758.9 2149.4L2760 2143.2L2762 2126.6L2765.4 2091.4L2766.8 2078.8L2768.2 2070L2769 2067.4L2769.6 2066.7L2770.2 2067.2L2770.8 2068.9L2771.4 2071.7L2772.2 2077.3L2773.8 2093.3L2776.8 2131.2L2778.2 2146.5L2779 2153.2L2779.8 2158.1L2780.4 2160.5L2780.8 2161.4L2781.2 2161.9L2781.8 2161.6L2782.4 2160.2L2783.6 2154.9L2787.2 2128.8L2788.6 2120.6L2789.8 2116.4L2790.4 2115.6L2790.8 2115.5L2791.4 2116L2792 2117.2L2793.3 2121.8L2797.7 2148.7L2799.5 2157.2L2800.5 2160.1L2801.5 2161.6L2801.9 2161.9L2802.5 2161.8L2803.5 2160.8L2804.7 2158.3L2806.1 2154L2812.3 2131.2L2823.3 2094.2L2824.7 2090.4L2826.2 2087.3L2827.4 2085.7L2828 2085.2L2828.6 2085L2829.2 2085.1L2829.8 2085.5L2831 2087.2L2832.2 2090L2833.6 2094.5L2836 2104.7L2842.2 2135L2844 2142.5L2845.6 2148.1L2847.4 2153.2L2849.2 2157L2851 2159.6L2852.8 2161.2L2854.2 2161.8L2855.8 2161.9L2861.1 2160.8L2863.3 2160.6L2870.1 2161.7L2874.5 2161.9L2877.7 2161.7L2879.7 2161.1L2881.5 2159.7L2883.1 2157.5L2884.7 2154.4L2888.1 2146.4L2889.5 2143.5L2890.9 2141.5L2891.7 2140.9L2892.3 2140.7L2893 2140.8L2893.8 2141.3L2895.4 2143.4L2896.8 2146.4L2900.2 2154.6L2902.2 2158.3L2903.2 2159.6L2904.2 2160.5L2905.4 2161.3L2906.6 2161.6L2909.2 2161.8L2912 2161.7L2913.8 2161.1L2915.2 2160.1L2916.4 2158.8L2917.8 2156.6L2922.8 2146.8L2924 2145.3L2925.2 2144.5L2926 2144.6L2926.7 2144.9L2928.1 2146.6L2929.5 2149.4L2933.3 2158.7L2934.5 2160.7L2935.7 2161.8L2936.3 2161.9L2936.9 2161.8L2938.3 2160.4L2939.5 2158.3L2942.9 2151.4"/>
<path class="c" stroke="#1f77b4" stroke-width="3.4" stroke-dasharray="13.6 5.2" d="M1939.9 2161.9L1978.6 2161.8L1983.6 2161.4L1986.8 2160.4L1988.6 2159.3L1990.3 2157.6L1991.7 2155.5L1992.9 2152.9L1994.1 2149.4L1995.3 2144.9L1997.3 2134.1L1999.3 2117.9L2001.3 2094.5L2003.1 2066L2004.7 2033.9L2006.5 1989.6L2008.3 1937L2013.7 1751.7L2015.5 1696.6L2016.7 1667.6L2017.7 1649.9L2018.7 1639.5L2019.1 1637.6L2019.5 1637L2020.1 1639L2020.5 1642.2L2021.3 1653.2L2022.1 1670.5L2023.1 1700.9L2025.4 1798.2L2029.2 2014.9L2030.8 2093.7L2031.8 2130.2L2032.6 2150.2L2033.4 2160.6L2033.8 2161.9L2034.2 2160.6L2034.8 2153.5L2035.6 2134.5L2037.2 2066.1L2038.6 1979.4L2041.6 1765.7L2043 1685.1L2044.2 1640.9L2044.8 1629.6L2045.2 1626.6L2045.4 1626.4L2046 1631.4L2046.8 1651L2048.2 1718.2L2052.2 2029L2053.4 2106.1L2054.6 2152.4L2055.2 2161.3L2055.4 2161.9L2055.6 2161.3L2056.2 2152.6L2056.8 2133.2L2058.1 2065L2059.3 1965.3L2061.9 1713.1L2063.1 1620.3L2064.1 1571.8L2064.7 1558.4L2064.9 1556.8L2065.1 1556.6L2065.5 1560.6L2066.1 1577.6L2067.3 1648L2070.9 2010.8L2071.9 2094.9L2072.9 2147.8L2073.5 2160.9L2073.7 2161.9L2073.9 2161.2L2074.3 2154.5L2074.9 2131.5L2076.1 2042.9L2080.3 1561.5L2081.3 1497.1L2081.7 1484.1L2082.1 1479.1L2082.3 1479.7L2082.5 1482.3L2082.9 1493.6L2083.9 1556L2084.9 1659.3L2088.1 2063.6L2089.1 2138.9L2089.7 2159.4L2089.9 2161.6L2090.1 2161.6L2090.6 2154.3L2091.2 2125.8L2092.2 2035.2L2095.2 1598.8L2096.2 1478.8L2097 1419.1L2097.4 1404.2L2097.6 1400.8L2097.8 1400.1L2098.2 1406.9L2098.6 1424.6L2099.6 1513.1L2103.4 2075.5L2104.2 2141.4L2104.6 2157.6L2104.8 2161.2L2105 2161.7L2105.4 2153.3L2105.8 2132.4L2106.8 2030L2110.4 1424.4L2111.2 1348.2L2111.6 1329.6L2111.8 1325.5L2112 1325.1L2112.4 1335.1L2112.8 1359.5L2113.6 1447.9L2116.4 1965L2117.2 2083.3L2118 2150.9L2118.4 2161.7L2118.6 2161L2119 2147.2L2119.4 2117.4L2120.2 2013.9L2123.4 1389.5L2124.3 1308.5L2124.7 1293.8L2124.9 1293.4L2125.3 1306.7L2125.7 1338.3L2126.5 1451.5L2129.5 2072.4L2130.1 2138.4L2130.5 2159L2130.7 2161.9L2130.9 2159.7L2131.3 2140.7L2131.9 2078.1L2134.5 1599.5L2135.3 1504.7L2135.9 1479.2L2136.1 1480.2L2136.5 1496.3L2137.3 1579.4L2139.5 1973.3L2140.3 2087L2140.9 2139.6L2141.3 2157.4L2141.5 2161.2L2141.7 2161.7L2142.1 2153.7L2142.7 2122.8L2145.1 1937.1L2145.7 1913.6L2145.9 1909.5L2146.1 1907.5L2146.3 1907.3L2146.9 1917.7L2147.5 1942.2L2150.5 2121L2151.5 2152.3L2151.9 2158.5L2152.1 2160.4L2152.5 2161.9L2152.9 2160.9L2153.5 2155.9L2155.9 2125.9L2156.5 2122L2157.1 2120.5L2157.4 2120.5L2157.8 2121.3L2158.6 2125.5L2161.2 2148.7L2162.2 2155.8L2163.2 2160.2L2163.8 2161.5L2164.4 2161.9L2164.8 2161.8L2165.4 2161.3L2167.8 2157.8L2168.4 2157.3L2169.2 2157.1L2169.8 2157.3L2170.6 2157.8L2173.2 2160.2L2174.4 2161.1L2175.6 2161.7L2177 2161.9L2182 2161.4L2190 2161.9L2942.9 2161.9"/>
<path class="c" stroke="#ff7f0e" stroke-width="3.4" d="M1939.9 2161.9L2086.3 2161.9L2096 2161.7L2101.6 2161.3L2105.2 2160.6L2108.2 2159.4L2110.8 2157.7L2113 2155.4L2115 2152.5L2117 2148.3L2118.6 2143.8L2120.2 2138L2122.4 2127.5L2124.5 2114.6L2126.3 2099.6L2128.1 2080.9L2129.9 2057.6L2131.5 2032.7L2133.1 2003.3L2134.7 1969.1L2137.5 1897L2140.5 1802.6L2143.3 1700.8L2148.9 1482.9L2151.7 1387.6L2153.3 1344.4L2154.7 1316.2L2156.1 1298.7L2156.7 1294.9L2157.4 1293.4L2157.8 1293.8L2158.2 1295.3L2158.8 1299.7L2159.6 1309.7L2160.2 1320.3L2161.6 1355.4L2163.2 1413.1L2164.6 1477.7L2166.2 1565.2L2171.6 1908.1L2173.8 2031L2175 2084.5L2176.2 2125.3L2177.4 2151.5L2178 2158.7L2178.6 2161.8L2178.8 2161.9L2179 2161.5L2179.4 2159.5L2180.4 2146.3L2181.4 2122L2182.4 2087.4L2184.4 1992.2L2188.6 1741.3L2190.4 1647L2191.5 1605.9L2192.5 1575.4L2193.5 1557.1L2193.9 1553.5L2194.3 1552L2194.5 1552L2194.7 1552.6L2195.1 1555.5L2195.9 1567.8L2196.7 1588.7L2197.7 1625.9L2199.5 1719.2L2203.5 1979.4L2205.1 2069.4L2206.1 2112.7L2206.9 2138.3L2207.9 2157.5L2208.3 2160.9L2208.5 2161.7L2208.7 2161.9L2209.1 2160.3L2209.5 2156.3L2210.3 2141L2211.1 2116.4L2212.1 2073.9L2213.7 1984.9L2217.1 1768.2L2218.7 1686.9L2220.1 1641.9L2220.9 1629.8L2221.3 1627.7L2221.5 1627.6L2222.1 1631.6L2222.9 1646.3L2224.4 1696L2226 1783.3L2229.2 1997.1L2230.6 2078L2232.2 2140.9L2233 2157.1L2233.6 2161.7L2233.8 2161.9L2234.2 2159.9L2234.8 2151.6L2235.4 2137.1L2236.2 2108.6L2237.8 2026L2240.8 1830.7L2242.2 1751.6L2243 1716.8L2243.8 1692L2244.6 1678.4L2245 1676.1L2245.2 1676L2245.8 1680.5L2246.6 1697L2248 1752L2249.4 1832.9L2252.4 2033.2L2253.8 2107.5L2255 2148L2255.6 2158.5L2256 2161.5L2256.2 2161.9L2256.4 2161.5L2256.8 2158.2L2257.4 2147.5L2258.7 2106.8L2260.1 2032.7L2262.9 1851.3L2264.1 1784.6L2265.5 1732.2L2266.1 1720.6L2266.7 1716L2266.9 1716.1L2267.3 1718.8L2267.9 1728.8L2269.1 1769L2270.5 1843.7L2273.3 2028.3L2274.5 2095.6L2275.9 2147.3L2276.5 2158.3L2276.9 2161.5L2277.1 2161.9L2277.5 2160.2L2278.1 2151.4L2279.3 2113.4L2280.5 2052.7L2284.3 1821.3L2285.7 1768.6L2286.3 1757L2286.9 1752.8L2287.3 1754.2L2287.9 1762.6L2289.1 1800.5L2290.3 1861.5L2294.2 2095L2295.6 2147.3L2296.2 2158.3L2296.6 2161.6L2296.8 2161.9L2297 2161.4L2297.4 2157.9L2298 2146.4L2299.2 2103.4L2302.8 1893.4L2304 1834L2305.2 1797.3L2305.8 1789.5L2306 1788.6L2306.2 1788.5L2306.8 1793.4L2307.4 1805.7L2308.6 1850.3L2312.2 2062.2L2313.4 2120.3L2314.4 2151L2315 2160.1L2315.4 2161.9L2315.8 2160.4L2316.4 2151.8L2317.6 2114.2L2318.8 2055.2L2321.2 1916.7L2322.4 1861.4L2323.4 1832.6L2324 1824.7L2324.2 1823.7L2324.5 1823.5L2324.9 1825.7L2325.5 1835.1L2326.5 1866.1L2327.5 1912.6L2331.1 2111L2332.3 2150.2L2332.9 2159.6L2333.3 2161.8L2333.5 2161.7L2333.7 2160.8L2334.3 2153.1L2335.3 2125.2L2336.3 2082L2339.7 1906.3L2340.9 1868.9L2341.5 1860L2341.9 1858L2342.1 1858.3L2342.3 1859.3L2342.9 1867.3L2343.9 1895.4L2344.9 1938.6L2348.3 2113.8L2349.5 2151L2350.1 2159.9L2350.5 2161.9L2350.7 2161.7L2350.9 2160.7L2351.5 2153.1L2352.7 2119L2355.9 1966.5L2357.1 1919.6L2358.2 1897L2358.6 1893.1L2358.8 1892.2L2359 1892.1L2359.4 1894.3L2360 1903.3L2361 1931.9L2364.4 2091.8L2365.4 2130.7L2366.4 2155.1L2366.8 2160L2367.2 2161.9L2367.4 2161.7L2367.6 2160.8L2368 2156.7L2369 2134.7L2370 2098.7L2373.2 1961.1L2374.2 1935L2374.8 1927.1L2375.2 1925.4L2375.6 1926.5L2376.2 1933.6L2377.2 1958.4L2380.6 2102.3L2381.6 2136.7L2382.6 2157.3L2383 2161L2383.2 2161.8L2383.4 2161.9L2383.8 2160L2384.4 2152.2L2385.4 2127.3L2388.4 2011.1L2389.4 1979.7L2390.2 1963.7L2390.6 1959.4L2391 1957.6L2391.2 1957.8L2391.5 1958.6L2392.1 1964.8L2393.1 1987.2L2396.3 2108L2397.3 2139.1L2398.3 2157.8L2398.7 2161.1L2398.9 2161.8L2399.1 2161.9L2399.5 2160.1L2399.9 2156L2400.9 2136L2403.9 2035.1L2404.9 2007.4L2405.7 1993.5L2406.1 1989.8L2406.5 1988.5L2406.9 1989.5L2407.3 1993L2408.1 2006.4L2409.1 2033.4L2412.1 2132.9L2413.1 2153.8L2413.7 2160.3L2414.1 2161.9L2414.3 2161.8L2414.5 2161.2L2414.9 2158.3L2415.9 2142.3L2418.9 2056.5L2419.9 2032.9L2420.7 2021.3L2421.1 2018.4L2421.5 2017.7L2421.9 2019L2422.3 2022.3L2423.3 2038.9L2426.4 2123.4L2427.4 2146.4L2428.2 2157.9L2428.6 2160.9L2429 2161.9L2429.4 2161L2429.8 2158.2L2430.6 2147.4L2434.2 2063.4L2435.2 2048.9L2435.6 2046L2436 2044.8L2436.2 2044.9L2436.4 2045.4L2436.8 2047.8L2437.8 2060.8L2440.8 2130.8L2441.8 2149.8L2442.6 2159L2443 2161.3L2443.4 2161.9L2443.8 2160.8L2444.2 2158.2L2445 2148.8L2448.6 2080.9L2449.4 2072.4L2449.8 2070.2L2450.2 2069.5L2450.6 2070.3L2451 2072.6L2451.8 2081.2L2455.4 2147.3L2456.4 2158.5L2456.8 2160.9L2457.2 2161.9L2457.4 2161.9L2457.6 2161.5L2458 2159.8L2459.1 2150.6L2462.5 2100.1L2463.3 2093.6L2463.7 2092.1L2464.1 2091.7L2464.5 2092.6L2464.9 2094.6L2465.7 2101.7L2469.3 2152.9L2470.1 2159.4L2470.5 2161.2L2470.9 2161.9L2471.1 2161.8L2471.5 2161L2472.3 2156.3L2475.7 2118.7L2476.5 2113.1L2476.9 2111.6L2477.3 2111L2477.5 2111L2477.9 2111.8L2478.7 2115.9L2479.7 2124.9L2482.3 2153.5L2483.3 2160.1L2483.7 2161.4L2484.1 2161.9L2484.3 2161.8L2484.7 2161.2L2485.5 2157.8L2488.7 2132.6L2489.5 2128.6L2489.9 2127.5L2490.3 2127.1L2490.9 2127.8L2491.8 2130.8L2495.2 2155.9L2496.2 2160.5L2496.6 2161.5L2497 2161.9L2497.6 2161.5L2498.2 2159.9L2499 2156.5L2501.4 2143.6L2502.2 2141L2502.6 2140.3L2503 2140L2503.4 2140.2L2503.8 2140.8L2504.6 2143.2L2508 2159.2L2508.8 2161.3L2509.2 2161.8L2509.6 2161.9L2510.2 2161.5L2511 2159.9L2513.8 2151.4L2514.6 2150L2515.2 2149.6L2515.8 2149.8L2516.6 2151L2519.8 2159.7L2520.8 2161.4L2521.6 2161.9L2522.2 2161.8L2523 2161L2525.9 2156.8L2526.7 2156.1L2527.3 2155.9L2527.9 2156.1L2528.7 2156.7L2532.1 2161.2L2532.9 2161.7L2533.7 2161.9L2534.9 2161.6L2537.7 2159.8L2538.9 2159.5L2540.5 2159.9L2543.7 2161.6L2545.5 2161.9L2550.5 2161.1L2557.1 2161.9L2562.4 2161.7L2569 2161.9L2942.9 2161.9"/>
<path class="c" stroke="#2ca02c" stroke-width="3.4" d="M1939.9 2161.9L2203.1 2161.9L2222.7 2161.6L2227.8 2161.2L2231.6 2160.5L2235 2159.3L2237.8 2157.7L2240.4 2155.5L2242.8 2152.6L2244.8 2149.3L2246.8 2145L2248.4 2140.6L2249.8 2136L2252.6 2123.9L2255 2110L2257.4 2091.8L2259.7 2070.8L2261.9 2044.8L2263.9 2016.4L2265.9 1982.8L2269.5 1908.7L2273.3 1811.1L2276.7 1709L2283.9 1475.5L2287.1 1385.4L2288.9 1345L2290.5 1317.6L2292.2 1300L2293 1295.2L2293.4 1293.9L2293.8 1293.4L2294.2 1293.6L2294.4 1294L2294.8 1295.4L2295.6 1300.6L2296.4 1309.1L2297.2 1320.9L2298.8 1354.5L2300.6 1407.9L2302.4 1476.5L2304.2 1558.2L2310.8 1907L2313.6 2036.4L2315 2087.2L2316.4 2126.1L2317.8 2151.2L2318.6 2159L2319.2 2161.6L2319.4 2161.9L2319.6 2161.8L2320.2 2159.8L2320.8 2154.9L2321.4 2147.4L2322.4 2128.9L2323.6 2097.7L2326.1 2010.7L2330.9 1792.7L2333.1 1705.7L2334.3 1669.1L2335.3 1646.3L2336.5 1629.3L2337.1 1625.4L2337.5 1624.5L2337.9 1625L2338.3 1627L2339.3 1638L2340.3 1657.6L2341.3 1685.2L2343.5 1769.5L2348.1 1993.6L2350.1 2078.6L2351.3 2117.7L2352.3 2141.5L2353.3 2156.4L2353.9 2160.9L2354.3 2161.9L2354.7 2161.3L2355.1 2159.3L2355.9 2150.6L2356.7 2136L2357.7 2110.2L2359.8 2037.8L2363.6 1867.3L2365.4 1796.8L2366.4 1766.5L2367.4 1744.2L2368.4 1731.3L2368.8 1728.9L2369.2 1728.1L2369.6 1728.9L2370 1731.4L2370.8 1741.1L2371.6 1757L2372.4 1778.7L2374.2 1844.9L2378.2 2029.6L2379.8 2093.5L2380.8 2124.6L2381.6 2143.2L2382.6 2157.7L2383 2160.6L2383.4 2161.9L2383.6 2161.8L2384 2160.5L2384.8 2153L2385.6 2139L2386.4 2119.1L2388.2 2056.9L2391.7 1910.7L2393.3 1850.8L2394.3 1822.2L2395.1 1805.7L2395.9 1795.5L2396.3 1792.9L2396.7 1792L2396.9 1792.2L2397.3 1793.9L2398.1 1802.4L2399.5 1832.7L2401.3 1895.3L2404.7 2044L2406.3 2104.6L2407.9 2145.9L2408.7 2157.3L2409.1 2160.4L2409.5 2161.8L2409.7 2161.9L2410.1 2160.6L2410.9 2153L2412.3 2124.4L2413.9 2072.2L2417.1 1942.3L2418.7 1886.7L2419.5 1865.7L2420.3 1850.6L2421.1 1842L2421.5 1840.2L2421.7 1840L2421.9 1840.2L2422.3 1842L2423.1 1850.7L2423.9 1866L2424.8 1887.1L2426.4 1943.3L2429.6 2074.3L2431.2 2126.3L2432.6 2154.1L2433.2 2160L2433.6 2161.7L2433.8 2161.9L2434 2161.7L2434.4 2159.9L2435.2 2151.2L2436 2136.2L2436.8 2115.5L2438.2 2068.9L2441.2 1955.2L2442.6 1912.7L2443.4 1895.4L2444 1886.3L2444.6 1881L2445 1879.5L2445.2 1879.5L2445.8 1881.9L2446.6 1891.1L2448 1922L2449.4 1967.7L2452.6 2089L2454 2130.7L2455.2 2153.6L2455.8 2159.6L2456.4 2161.9L2456.6 2161.8L2457 2160.3L2457.6 2154.9L2458.9 2133.6L2460.3 2094.3L2463.3 1989L2464.5 1952.8L2465.9 1923.7L2466.7 1915.3L2467.1 1913.6L2467.3 1913.4L2467.5 1913.5L2467.9 1915.2L2468.5 1920.7L2469.7 1942.3L2471.1 1981.8L2473.9 2080.2L2475.3 2123L2476.7 2151.8L2477.5 2160L2477.9 2161.7L2478.1 2161.9L2478.3 2161.7L2478.7 2160.1L2479.3 2154.6L2480.7 2129.2L2481.9 2096.1L2484.7 2005.7L2486.1 1969.1L2487.3 1949.4L2487.9 1944.5L2488.3 1943.3L2488.5 1943.3L2489.1 1945.6L2489.7 1951.6L2491.1 1977.9L2495.2 2101.3L2496.6 2137.2L2497.8 2156.2L2498.4 2160.8L2498.8 2161.9L2499 2161.8L2499.2 2161.4L2499.8 2157.7L2501 2140.7L2502.4 2107.6L2506.2 2000.2L2507.6 1976.6L2508.2 1971.5L2508.6 1970.1L2508.8 1969.9L2509 1970.1L2509.4 1971.6L2510 1976.8L2511.4 2000.6L2515.2 2107.4L2516.6 2140.2L2517.8 2157.3L2518.4 2161.2L2518.8 2161.9L2519 2161.7L2519.4 2160.2L2520 2155.4L2521.2 2136.9L2522.4 2109.4L2525.1 2040.1L2526.3 2014.3L2527.5 1998.2L2528.1 1994.5L2528.5 1993.9L2528.9 1994.6L2529.5 1998.4L2530.7 2014.8L2531.9 2040.6L2534.5 2109.3L2535.7 2136.5L2536.9 2154.8L2537.5 2159.9L2538.1 2161.9L2538.3 2161.8L2538.5 2161.5L2539.1 2158.4L2540.1 2146.9L2541.3 2124.6L2545.1 2037.7L2546.3 2021.2L2546.9 2016.9L2547.3 2015.6L2547.5 2015.5L2548.1 2017L2548.7 2021.4L2549.9 2038.2L2553.7 2124.2L2554.9 2146.3L2555.9 2157.8L2556.5 2161.2L2556.9 2161.9L2557.3 2161.3L2557.9 2158.2L2559 2147.2L2560.2 2126.5L2563.6 2056.5L2564.8 2040.8L2565.4 2036.6L2566 2034.9L2566.4 2035.4L2567 2038.2L2568 2048.6L2569.2 2068.5L2572.8 2141.2L2574 2156.3L2574.6 2160.4L2575.2 2161.9L2575.6 2161.5L2576.2 2158.7L2577.2 2149L2578.2 2134L2581.8 2069.1L2583 2056.3L2583.6 2053.2L2584 2052.5L2584.4 2052.8L2585 2055.4L2586 2064.7L2587.2 2082.6L2590.6 2143.4L2591.8 2156.9L2592.5 2160.6L2593.1 2161.9L2593.5 2161.5L2593.9 2160.1L2594.9 2152.4L2596.1 2136.7L2599.5 2082.8L2600.7 2071.5L2601.3 2068.8L2601.7 2068.2L2602.1 2068.5L2602.7 2070.9L2603.7 2079.3L2604.7 2092.3L2608.3 2148.1L2609.5 2158.9L2610.1 2161.4L2610.5 2161.9L2610.9 2161.5L2611.3 2160.2L2612.3 2153.3L2613.5 2139.4L2616.7 2095.1L2617.9 2085.1L2618.5 2082.7L2618.9 2082.2L2619.3 2082.5L2619.7 2083.8L2620.7 2090.3L2621.9 2103.6L2625.4 2149.6L2626.6 2159.1L2627.2 2161.4L2627.6 2161.9L2628 2161.6L2628.4 2160.5L2629.4 2154.4L2630.4 2144.6L2633.6 2106.3L2634.8 2097.4L2635.4 2095.2L2635.8 2094.6L2636.2 2094.9L2636.6 2095.9L2637.6 2101.5L2638.8 2113L2642 2150.5L2643.2 2159.2L2643.8 2161.3L2644.2 2161.9L2644.6 2161.7L2645 2160.9L2646 2155.9L2647 2147.5L2650.2 2114.9L2651.4 2107.6L2652 2105.9L2652.4 2105.6L2652.8 2106L2653.4 2107.8L2654.4 2113.7L2657.8 2147.3L2658.9 2155.4L2659.9 2160.5L2660.3 2161.5L2660.7 2161.9L2661.1 2161.7L2661.7 2160.2L2662.7 2155.1L2665.9 2127.7L2666.9 2120.6L2667.9 2116.3L2668.3 2115.5L2668.7 2115.3L2669.1 2115.6L2669.7 2117.2L2670.7 2122.3L2673.9 2149.1L2674.9 2156.1L2675.9 2160.6L2676.3 2161.5L2676.7 2161.9L2677.1 2161.7L2677.5 2161.1L2678.5 2157.4L2682.5 2129.7L2683.5 2125.3L2684.1 2123.9L2684.5 2123.6L2684.9 2123.8L2685.3 2124.5L2686.3 2128.1L2687.3 2134L2690.5 2156.2L2691.5 2160.4L2692.2 2161.6L2692.6 2161.9L2693 2161.7L2693.4 2161.1L2694.2 2158.7L2695.2 2153.9L2698.2 2136L2699.2 2132.2L2699.8 2131.1L2700.2 2130.8L2700.6 2131L2701 2131.5L2702 2134.5L2706 2156.8L2707 2160.4L2707.6 2161.6L2708 2161.9L2708.4 2161.8L2708.8 2161.4L2709.6 2159.5L2710.6 2155.6L2713.6 2141L2714.6 2138L2715.2 2137.2L2715.6 2137L2716 2137.2L2716.4 2137.7L2717.2 2139.6L2718.2 2143.5L2721.2 2157.6L2722.2 2160.6L2722.8 2161.6L2723.2 2161.9L2723.6 2161.8L2724 2161.5L2724.8 2160L2725.9 2156.8L2728.9 2145.1L2729.9 2142.9L2730.7 2142.2L2731.1 2142.3L2731.5 2142.6L2732.5 2144.6L2736.3 2158.5L2737.3 2160.9L2737.9 2161.7L2738.3 2161.9L2739.1 2161.5L2740.1 2159.8L2743.1 2150.6L2744.1 2148.1L2744.9 2146.9L2745.7 2146.6L2746.5 2147.1L2747.5 2148.9L2751.3 2159.8L2752.3 2161.5L2753.1 2161.9L2753.9 2161.5L2754.9 2160.1L2757.7 2153.3L2758.7 2151.4L2759.6 2150.4L2760.4 2150.1L2761.2 2150.6L2762.2 2152L2766 2160.5L2766.8 2161.5L2767.6 2161.9L2768.4 2161.7L2769.2 2160.9L2772.8 2154.5L2773.8 2153.4L2774.6 2153.1L2775.4 2153.3L2776.4 2154.3L2779.4 2159.6L2780.4 2161L2781.2 2161.7L2782 2161.9L2782.8 2161.7L2783.6 2161L2787.2 2156.2L2788 2155.6L2788.8 2155.4L2789.6 2155.6L2790.6 2156.4L2794.5 2161.2L2795.3 2161.7L2796.1 2161.9L2797.5 2161.4L2800.9 2158L2801.9 2157.4L2802.7 2157.2L2803.5 2157.3L2804.3 2157.7L2807.9 2161.1L2808.9 2161.7L2809.9 2161.9L2811.5 2161.4L2814.9 2159L2816.5 2158.6L2818.3 2159.2L2821.9 2161.5L2823.5 2161.9L2825.1 2161.6L2828.6 2159.9L2830 2159.7L2831.4 2159.9L2835 2161.5L2836.8 2161.9L2838.2 2161.8L2841.6 2160.7L2843.2 2160.4L2844.6 2160.6L2848.2 2161.7L2850 2161.9L2856.4 2161L2863.1 2161.9L2869.3 2161.4L2875.7 2161.9L2881.9 2161.6L2888.3 2161.9L2894.4 2161.7L2900.8 2161.9L2942.9 2161.9"/>
<path class="c" stroke="#d62728" stroke-width="3.4" d="M1939.9 2161.9L2323.4 2161.9L2346.7 2161.7L2352.9 2161.4L2357.5 2160.8L2361.4 2160L2364.8 2158.7L2367.8 2156.9L2370.4 2154.6L2372.8 2151.8L2375 2148.3L2376.8 2144.8L2378.6 2140.3L2380.4 2134.9L2382 2129.1L2385 2115.3L2387.8 2098L2390.4 2077.5L2393.1 2051.7L2395.5 2022.7L2397.9 1988L2400.1 1950.8L2402.1 1912.4L2406.5 1812.6L2410.3 1711.4L2418.5 1475.3L2422.3 1380.8L2424.3 1341.8L2426.2 1315.3L2427.2 1304.8L2428 1298.8L2429 1294.3L2429.4 1293.6L2429.8 1293.4L2430.4 1294.3L2430.8 1295.7L2431.8 1301.9L2432.8 1312.2L2433.6 1323.3L2435.4 1358.1L2437.4 1412L2439.4 1480.6L2441.4 1561.7L2448.8 1908.9L2451.8 2032.1L2453.6 2090L2455.2 2128.3L2456 2142.3L2456.8 2152.6L2457.6 2159.1L2458.3 2161.5L2458.5 2161.8L2458.9 2161.7L2459.5 2159.8L2460.1 2155.7L2460.7 2149.5L2461.9 2131L2463.1 2104.9L2464.5 2066.1L2465.9 2019.9L2471.1 1821.3L2473.5 1741.2L2474.9 1705.1L2476.1 1682.3L2477.3 1668.1L2477.9 1664.4L2478.5 1663.1L2478.9 1663.5L2479.5 1666.2L2480.7 1678.7L2481.7 1696.1L2482.9 1724.8L2485.3 1803.4L2490.3 2006.7L2492.6 2084.3L2493.8 2117.3L2495 2141.9L2496.2 2156.9L2496.8 2160.7L2497.2 2161.8L2497.4 2161.9L2497.6 2161.7L2498 2160.5L2499 2152.6L2500 2138L2501 2117.2L2503.2 2053.7L2507.4 1902.6L2509.4 1839.7L2510.6 1810.7L2511.6 1793L2512.6 1782L2513.2 1778.9L2513.6 1778.2L2514 1778.7L2514.4 1780.4L2515.4 1789.8L2516.2 1802.2L2517.2 1823.7L2519.2 1882.6L2523.6 2044.6L2525.5 2101.8L2526.5 2126.8L2527.5 2145.5L2528.5 2157.4L2529.1 2161L2529.5 2161.9L2529.7 2161.9L2529.9 2161.6L2530.3 2160.1L2531.1 2153.6L2531.9 2142.6L2532.7 2127.4L2534.7 2074.6L2538.5 1948.5L2540.3 1896.5L2541.3 1874.3L2542.3 1858.2L2543.3 1849.1L2543.7 1847.4L2544.1 1847L2544.5 1847.8L2544.9 1849.8L2545.9 1860L2546.7 1873.1L2547.7 1895.1L2549.5 1947.2L2553.3 2074.9L2555.1 2123.8L2556.7 2151.8L2557.5 2159.2L2557.9 2161.2L2558.3 2161.9L2558.8 2161.4L2559.2 2159.7L2560 2152.9L2560.8 2141.7L2561.8 2122L2563.4 2080.4L2567 1971L2568.8 1927L2569.6 1912.9L2570.4 1903L2571.2 1897.5L2571.6 1896.6L2571.8 1896.5L2572.4 1898.2L2573.2 1904.5L2574 1915.3L2574.8 1930.2L2576.4 1970L2579.8 2074L2581.4 2117.1L2582.4 2137.9L2583.2 2150.3L2584 2158.3L2584.4 2160.6L2584.8 2161.8L2585 2161.9L2585.4 2161.3L2586.2 2156.6L2587.6 2138L2589.2 2103.4L2592.9 2004.3L2594.3 1971L2595.9 1944.8L2596.7 1937.8L2597.1 1935.9L2597.5 1935.2L2597.7 1935.3L2598.1 1936.3L2598.9 1941.8L2600.3 1961.5L2601.9 1996.9L2605.3 2090.8L2606.7 2124.5L2608.3 2151.3L2609.1 2158.8L2609.5 2160.9L2609.9 2161.8L2610.1 2161.9L2610.5 2161.2L2611.1 2158L2611.7 2152.5L2612.5 2141.7L2614.1 2110.2L2617.5 2025.3L2618.9 1995.6L2619.7 1982.6L2620.5 1973.3L2621.3 1968.1L2621.7 1967.1L2621.9 1967L2622.5 1968.3L2623.1 1972.1L2624.5 1989.7L2626.2 2022L2629.4 2101.9L2630.8 2131.8L2631.6 2145.1L2632.4 2154.7L2633.2 2160.4L2633.8 2161.9L2634 2161.9L2634.4 2161L2635 2157.8L2635.6 2152.3L2636.4 2141.9L2637.8 2116.4L2640.8 2048.5L2642.2 2020.9L2643 2008.7L2643.8 1999.9L2644.6 1994.8L2645 1993.8L2645.2 1993.7L2645.8 1994.9L2646.6 2000L2647.4 2008.9L2648.2 2021.1L2649.6 2048.6L2652.6 2116L2654 2141.3L2655.4 2157.3L2656 2160.7L2656.6 2161.9L2656.8 2161.8L2657.2 2160.9L2658 2156.1L2659.5 2139.5L2660.9 2114.8L2663.9 2054.2L2665.3 2032.1L2666.5 2020.3L2667.1 2017.4L2667.5 2016.6L2667.7 2016.6L2668.3 2018L2668.9 2021.5L2670.1 2034.2L2671.5 2057.1L2674.3 2113.5L2675.7 2138.1L2677.1 2155.1L2677.9 2160.3L2678.5 2161.8L2678.7 2161.9L2679.1 2161.3L2679.7 2158.8L2680.9 2148L2682.3 2127.8L2685.1 2077L2686.5 2055.2L2687.9 2040.9L2688.5 2037.7L2689.1 2036.4L2689.3 2036.4L2689.7 2037.1L2690.3 2039.8L2691.5 2050.6L2693 2070.7L2695.8 2120.9L2697.2 2142.6L2698.6 2157L2699.2 2160.4L2699.8 2161.8L2700 2161.9L2700.4 2161.4L2701 2159.1L2702.2 2149.4L2703.4 2134.1L2706.4 2086L2707.6 2069.7L2709 2057.1L2709.6 2054.5L2710.2 2053.6L2710.6 2054L2711.2 2056.2L2712.4 2065.4L2713.8 2083.1L2717.8 2144.2L2719.2 2157.4L2719.8 2160.4L2720.4 2161.8L2720.8 2161.8L2721.4 2160.3L2722.6 2152.5L2724 2136.9L2726.9 2097.1L2728.1 2082.6L2729.5 2071.5L2730.1 2069.3L2730.5 2068.7L2730.7 2068.7L2731.3 2069.7L2731.9 2072.3L2733.3 2084L2737.1 2135.4L2738.5 2151.2L2739.7 2159.5L2740.3 2161.4L2740.7 2161.9L2741.3 2161.3L2741.9 2159.1L2743.1 2150.7L2744.3 2138L2747.1 2103L2748.3 2091.1L2749.5 2083.7L2750.1 2082.1L2750.5 2081.8L2751.1 2082.6L2751.7 2084.9L2752.9 2093.4L2754.1 2106L2756.9 2140.5L2758.1 2152.3L2759.4 2159.7L2760 2161.5L2760.4 2161.9L2761 2161.3L2761.6 2159.4L2762.8 2151.8L2764 2140.5L2766.6 2112L2767.8 2101.4L2769 2094.9L2769.6 2093.5L2770 2093.3L2770.6 2094.1L2771.2 2096.2L2772.4 2103.9L2776.2 2143.2L2777.4 2153.6L2778.6 2160.1L2779.2 2161.6L2779.6 2161.9L2780 2161.6L2780.6 2160.3L2781.6 2155.4L2782.8 2146.2L2786.4 2113.1L2787.6 2106.1L2788.2 2104.1L2788.8 2103.4L2789.2 2103.5L2789.8 2104.7L2791 2110.3L2792.2 2119.4L2795.9 2152L2797.1 2158.9L2797.7 2160.9L2798.3 2161.8L2798.7 2161.8L2799.3 2160.9L2800.5 2156L2801.7 2147.9L2805.1 2120.6L2806.3 2114.5L2806.9 2112.8L2807.5 2112.1L2807.9 2112.3L2808.5 2113.3L2809.7 2118.3L2810.9 2126.3L2814.3 2153.1L2815.5 2159.3L2816.1 2161L2816.7 2161.8L2817.1 2161.8L2817.7 2161L2818.7 2157.7L2819.9 2151L2823.5 2126.3L2824.7 2121.3L2825.3 2120.1L2825.7 2119.8L2826.2 2119.8L2826.8 2120.7L2827.8 2124.1L2829 2130.6L2832.6 2154.9L2833.8 2160L2834.4 2161.4L2835 2161.9L2835.4 2161.8L2836 2160.9L2837 2157.7L2838 2152.8L2841.6 2131.7L2842.8 2127.6L2843.4 2126.6L2843.8 2126.4L2844.2 2126.5L2844.8 2127.4L2845.8 2130.4L2847 2136.3L2850.4 2156L2851.6 2160.3L2852.2 2161.5L2852.8 2161.9L2853.2 2161.8L2853.6 2161.3L2854.6 2158.9L2855.8 2153.9L2859.2 2136.8L2860.5 2133.2L2861.1 2132.3L2861.5 2132.1L2861.9 2132.2L2862.5 2132.9L2863.5 2135.6L2864.7 2140.6L2868.1 2157.3L2869.3 2160.8L2869.9 2161.7L2870.3 2161.9L2870.7 2161.8L2871.1 2161.5L2872.1 2159.5L2873.3 2155.3L2876.7 2140.8L2877.9 2137.8L2878.5 2137.1L2878.9 2137L2879.7 2137.6L2880.7 2139.6L2881.9 2143.8L2885.3 2157.9L2886.5 2160.9L2887.1 2161.7L2887.5 2161.9L2888.3 2161.5L2889.3 2159.8L2890.5 2156.3L2893.8 2144.7L2895 2142L2895.6 2141.4L2896 2141.3L2896.4 2141.3L2897 2141.9L2898 2143.8L2899 2146.8L2902.2 2158.1L2903.4 2160.9L2904.4 2161.9L2904.8 2161.9L2905.4 2161.5L2906.4 2160L2907.4 2157.5L2910.6 2147.8L2911.8 2145.6L2912.8 2144.9L2913.2 2144.9L2913.8 2145.4L2914.8 2147L2919 2158.9L2920 2160.9L2921 2161.8L2921.4 2161.9L2922 2161.7L2923 2160.5L2924.2 2158L2927.3 2150.4L2928.3 2148.7L2929.1 2148L2929.5 2147.9L2930.1 2148.1L2931.3 2149.4L2932.5 2151.9L2935.5 2159.3L2936.5 2161L2937.5 2161.8L2938.5 2161.7L2939.7 2160.5L2942.9 2154"/>
</g><rect x="2608.7" y="1274.3" width="312.8" height="413.6" rx="7" fill="#fff" fill-opacity="0.8" stroke="#ccc" stroke-opacity="0.8" stroke-width="1.8"/><line x1="2624.4" x2="2722.4" y1="1320.1" y2="1320.1" stroke="#000" stroke-opacity="0.8" stroke-width="4.5"/><line x1="2624.4" x2="2722.4" y1="1404.6" y2="1404.6" stroke="#1f77b4" stroke-opacity="0.8" stroke-width="4.5" stroke-dasharray="13.6 5.2"/><line x1="2624.4" x2="2722.4" y1="1481.9" y2="1481.9" stroke="#ff7f0e" stroke-opacity="0.8" stroke-width="4.5"/><line x1="2624.4" x2="2722.4" y1="1561.7" y2="1561.7" stroke="#2ca02c" stroke-opacity="0.8" stroke-width="4.5"/><line x1="2624.4" x2="2722.4" y1="1639.5" y2="1639.5" stroke="#d62728" stroke-opacity="0.8" stroke-width="4.5"/><rect x="2757.1" y="1326.6" width="80.5" height="2.4" fill="#000"/><text class="i" style="stroke-width:0.51px" font-size="34.0" x="2774.3" y="1320.3">d</text><text class="r" style="stroke-width:0.36px" font-size="23.8" x="2790.6" y="1306.0">2</text><text class="i" style="stroke-width:0.51px" font-size="34.0" x="2806.2" y="1320.3">I</text><text class="i" style="stroke-width:0.51px" font-size="34.0" x="2757.1" y="1356.0" textLength="79.8" lengthAdjust="spacingAndGlyphs">dωd<tspan font-style="normal">Ω</tspan></text><text class="r" stroke="none" style="stroke:none" font-size="50" x="2753.8" y="1421.2">|</text><text class="i" style="stroke-width:0.73px" font-size="49" x="2766.6" y="1421.2">f</text><text class="r" style="stroke-width:0.78px" font-size="52.0" transform="translate(2795.1 1421.2) scale(0.78 1)">(</text><text class="g" style="stroke-width:0.70px" font-size="41" x="2809.6" y="1421.2">ν</text><text class="r" style="stroke-width:0.51px" font-size="34" x="2836.1" y="1429.2">1</text><text class="r" style="stroke-width:0.78px" font-size="52.0" transform="translate(2853.1 1421.2) scale(0.78 1)">)</text><text class="r" stroke="none" style="stroke:none" font-size="50" x="2866.8" y="1421.2">|</text><text class="r" style="stroke-width:0.51px" font-size="34" x="2879.6" y="1398.7">2</text><text class="r" stroke="none" style="stroke:none" font-size="50" x="2753.8" y="1498.5">|</text><text class="i" style="stroke-width:0.73px" font-size="49" x="2766.6" y="1498.5">f</text><text class="r" style="stroke-width:0.78px" font-size="52.0" transform="translate(2795.1 1498.5) scale(0.78 1)">(</text><text class="g" style="stroke-width:0.70px" font-size="41" x="2809.6" y="1498.5">ν</text><text class="r" style="stroke-width:0.51px" font-size="34" x="2836.1" y="1506.5">3</text><text class="r" style="stroke-width:0.78px" font-size="52.0" transform="translate(2853.1 1498.5) scale(0.78 1)">)</text><text class="r" stroke="none" style="stroke:none" font-size="50" x="2866.8" y="1498.5">|</text><text class="r" style="stroke-width:0.51px" font-size="34" x="2879.6" y="1476.0">2</text><text class="r" stroke="none" style="stroke:none" font-size="50" x="2753.8" y="1578.3">|</text><text class="i" style="stroke-width:0.73px" font-size="49" x="2766.6" y="1578.3">f</text><text class="r" style="stroke-width:0.78px" font-size="52.0" transform="translate(2795.1 1578.3) scale(0.78 1)">(</text><text class="g" style="stroke-width:0.70px" font-size="41" x="2809.6" y="1578.3">ν</text><text class="r" style="stroke-width:0.51px" font-size="34" x="2836.1" y="1586.3">5</text><text class="r" style="stroke-width:0.78px" font-size="52.0" transform="translate(2853.1 1578.3) scale(0.78 1)">)</text><text class="r" stroke="none" style="stroke:none" font-size="50" x="2866.8" y="1578.3">|</text><text class="r" style="stroke-width:0.51px" font-size="34" x="2879.6" y="1555.8">2</text><text class="r" stroke="none" style="stroke:none" font-size="50" x="2753.8" y="1656.1">|</text><text class="i" style="stroke-width:0.73px" font-size="49" x="2766.6" y="1656.1">f</text><text class="r" style="stroke-width:0.78px" font-size="52.0" transform="translate(2795.1 1656.1) scale(0.78 1)">(</text><text class="g" style="stroke-width:0.70px" font-size="41" x="2809.6" y="1656.1">ν</text><text class="r" style="stroke-width:0.51px" font-size="34" x="2836.1" y="1664.1">7</text><text class="r" style="stroke-width:0.78px" font-size="52.0" transform="translate(2853.1 1656.1) scale(0.78 1)">)</text><text class="r" stroke="none" style="stroke:none" font-size="50" x="2866.8" y="1656.1">|</text><text class="r" style="stroke-width:0.51px" font-size="34" x="2879.6" y="1633.6">2</text>
<rect x="1939.9" y="1250.8" width="1005.1" height="955.0" fill="none" stroke="#000" stroke-width="2.2"/><line x1="1939.9" x2="1939.9" y1="2205.8" y2="2216.3" stroke="#000" stroke-width="2.2"/><text class="t" text-anchor="middle" x="1936.4" y="2270.8">0</text><line x1="2341.1" x2="2341.1" y1="2205.8" y2="2216.3" stroke="#000" stroke-width="2.2"/><text class="t" text-anchor="middle" x="2337.6" y="2270.8">2</text><line x1="2742.3" x2="2742.3" y1="2205.8" y2="2216.3" stroke="#000" stroke-width="2.2"/><text class="t" text-anchor="middle" x="2738.8" y="2270.8">4</text><line x1="1929.4" x2="1939.9" y1="2161.9" y2="2161.9" stroke="#000" stroke-width="2.2"/><text class="t" text-anchor="end" x="1921.6" y="2185.5">0.0</text><line x1="1929.4" x2="1939.9" y1="1988.2" y2="1988.2" stroke="#000" stroke-width="2.2"/><text class="t" text-anchor="end" x="1921.6" y="2011.8">0.2</text><line x1="1929.4" x2="1939.9" y1="1814.5" y2="1814.5" stroke="#000" stroke-width="2.2"/><text class="t" text-anchor="end" x="1921.6" y="1838.1">0.4</text><line x1="1929.4" x2="1939.9" y1="1640.8" y2="1640.8" stroke="#000" stroke-width="2.2"/><text class="t" text-anchor="end" x="1921.6" y="1664.4">0.6</text><line x1="1929.4" x2="1939.9" y1="1467.1" y2="1467.1" stroke="#000" stroke-width="2.2"/><text class="t" text-anchor="end" x="1921.6" y="1490.7">0.8</text><line x1="1929.4" x2="1939.9" y1="1293.4" y2="1293.4" stroke="#000" stroke-width="2.2"/><text class="t" text-anchor="end" x="1921.6" y="1317.0">1.0</text><g transform="translate(1736.9 1726.1) rotate(-90)"><rect x="-77.0" y="-2.0" width="154.0" height="4.0" fill="#000"/><text class="i" style="stroke-width:0.93px" font-size="62.0" x="-43.2" y="-11.3">d</text><text class="r" style="stroke-width:0.65px" font-size="43.4" x="-12.7" y="-37.3">2</text><text class="i" style="stroke-width:0.93px" font-size="62.0" x="16.6" y="-11.3">I</text><text class="i" style="stroke-width:0.93px" font-size="62.0" x="-77.0" y="56.4" textLength="152.8" lengthAdjust="spacingAndGlyphs">dωd<tspan font-style="normal">Ω</tspan></text></g><text class="g" style="stroke-width:1.36px" font-size="80" text-anchor="middle" x="2437.4" y="2397.3">ν</text></g>
</svg>
</body></html>
